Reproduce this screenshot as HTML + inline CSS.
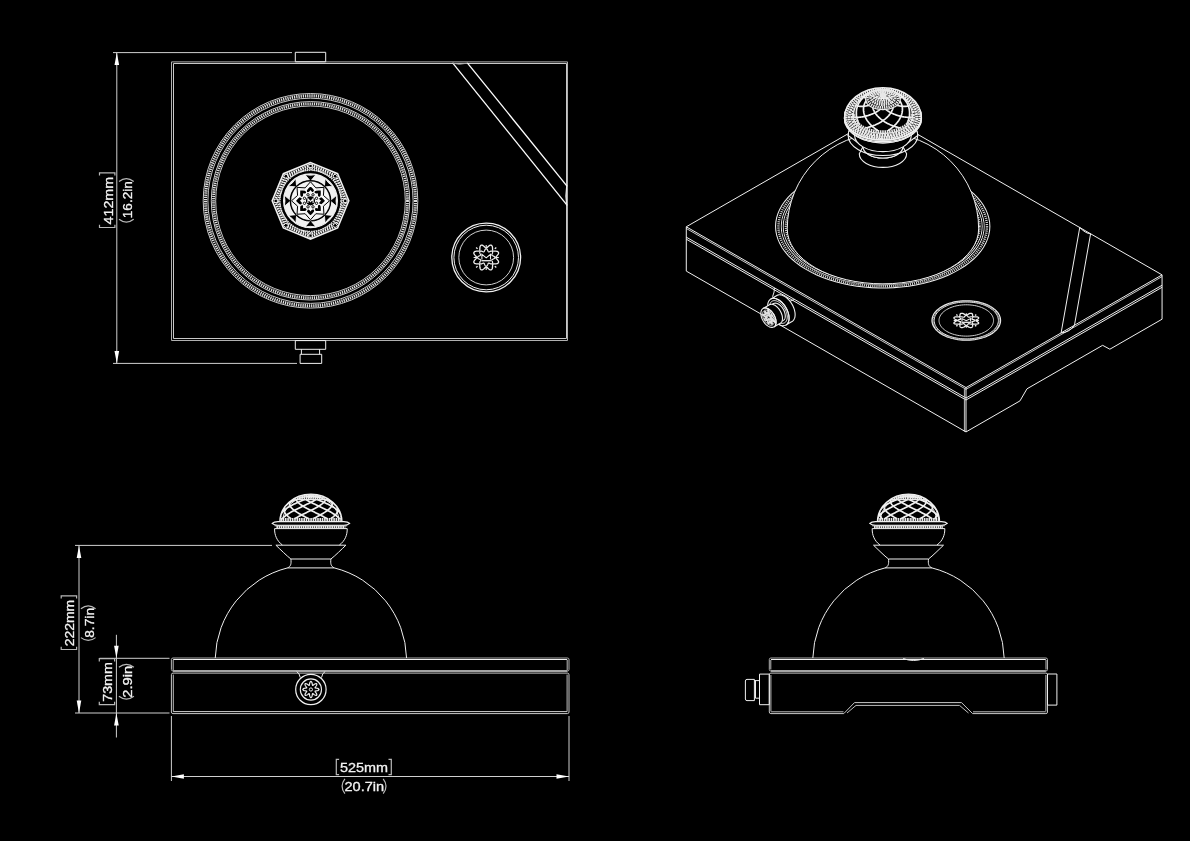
<!DOCTYPE html>
<html><head><meta charset="utf-8"><style>
html,body{margin:0;padding:0;background:#000;width:1190px;height:841px;overflow:hidden}
svg{display:block;will-change:transform}
text{font-family:"Liberation Sans",sans-serif}
</style></head><body>
<svg width="1190" height="841" viewBox="0 0 1190 841">
<rect width="1190" height="841" fill="#000"/>
<g fill="none" stroke="#f0f0f0" stroke-width="1">
<g id="top">
<path d="M171.5,61.9 L567.5,61.9 L567.5,340.5 L171.5,340.5Z" stroke="#b0b0b0"/>
<path d="M173.5,63.5 L566.5,63.5 L566.5,338.5 L173.5,338.5Z" stroke="#c8c8c8"/>
<path d="M295.3,52.3 L325.7,52.3 L325.7,61.8 L295.3,61.8Z"/>
<path d="M295.3,340.6 L325.7,340.6 L325.7,349.3 L295.3,349.3Z"/>
<path d="M301.4,349.3 L301.4,354.3"/>
<path d="M319.6,349.3 L319.6,354.3"/>
<path d="M300.1,354.3 L321.7,354.3 L321.7,363.4 L300.1,363.4Z"/>
<path d="M452.6,62.8 L567.2,205.3" stroke="#fff" stroke-width="1.3"/>
<path d="M467.3,62.8 L567.2,186.3" stroke="#fff" stroke-width="1.3"/>
<path d="M452.6,63.2 L459.5,64.2 L467.3,63.2" stroke="#aaa"/>
<path d="M566.6,186.3 L565.8,196 L566.6,205.3"/>
<path d="M113,52.6 L292,52.6" stroke="#cfcfcf"/>
<path d="M113,363.4 L297,363.4" stroke="#cfcfcf"/>
<path d="M116.8,52.6 L116.8,363.4" stroke="#cfcfcf"/>
<path d="M116.8,52.6 L119.1,65.1 L114.5,65.1Z" fill="#fff" stroke="none"/>
<path d="M116.8,363.4 L114.5,350.9 L119.1,350.9Z" fill="#fff" stroke="none"/>
<circle cx="310.5" cy="200.8" r="107.3" stroke="#c8c8c8"/>
<circle cx="310.5" cy="200.8" r="102.6" stroke="#c8c8c8"/>
<circle cx="310.5" cy="200.8" r="104.95" stroke="#dedede" stroke-width="3.1" stroke-dasharray="1.3 0.9"/>
<circle cx="310.5" cy="200.8" r="99.2" stroke="#c8c8c8"/>
<circle cx="310.5" cy="200.8" r="94.8" stroke="#c8c8c8"/>
<circle cx="310.5" cy="200.8" r="97" stroke="#dedede" stroke-width="2.8" stroke-dasharray="1.3 0.9"/>
<circle cx="486.2" cy="257.5" r="34.4" stroke-width="1.3"/>
<circle cx="486.2" cy="257.5" r="32.3"/>
<circle cx="486.2" cy="257.5" r="27.4" stroke="#cfcfcf"/>
<path d="M495.7,257.5 L495.75,257.8 L495.92,258.11 L496.17,258.44 L496.5,258.8 L496.88,259.19 L497.28,259.61 L497.67,260.06 L498.03,260.54 L498.31,261.02 L498.5,261.5 L498.59,261.96 L498.55,262.39 L498.39,262.78 L498.11,263.11 L497.73,263.37 L497.25,263.58 L496.71,263.71 L496.13,263.8 L495.53,263.84 L494.95,263.86 L494.4,263.86 L493.92,263.88 L493.5,263.94 L493.17,264.04 L492.92,264.22 L492.74,264.47 L492.64,264.8 L492.58,265.22 L492.56,265.7 L492.56,266.25 L492.54,266.83 L492.5,267.43 L492.41,268.01 L492.28,268.55 L492.07,269.03 L491.81,269.41 L491.48,269.69 L491.09,269.85 L490.66,269.89 L490.2,269.8 L489.72,269.61 L489.24,269.33 L488.76,268.97 L488.31,268.58 L487.89,268.18 L487.5,267.8 L487.14,267.47 L486.81,267.22 L486.5,267.05 L486.2,267 L485.9,267.05 L485.59,267.22 L485.26,267.47 L484.9,267.8 L484.51,268.18 L484.09,268.58 L483.64,268.97 L483.16,269.33 L482.68,269.61 L482.2,269.8 L481.74,269.89 L481.31,269.85 L480.92,269.69 L480.59,269.41 L480.33,269.03 L480.12,268.55 L479.99,268.01 L479.9,267.43 L479.86,266.83 L479.84,266.25 L479.84,265.7 L479.82,265.22 L479.76,264.8 L479.66,264.47 L479.48,264.22 L479.23,264.04 L478.9,263.94 L478.48,263.88 L478,263.86 L477.45,263.86 L476.87,263.84 L476.27,263.8 L475.69,263.71 L475.15,263.58 L474.67,263.37 L474.29,263.11 L474.01,262.78 L473.85,262.39 L473.81,261.96 L473.9,261.5 L474.09,261.02 L474.37,260.54 L474.73,260.06 L475.12,259.61 L475.52,259.19 L475.9,258.8 L476.23,258.44 L476.48,258.11 L476.65,257.8 L476.7,257.5 L476.65,257.2 L476.48,256.89 L476.23,256.56 L475.9,256.2 L475.52,255.81 L475.12,255.39 L474.73,254.94 L474.37,254.46 L474.09,253.98 L473.9,253.5 L473.81,253.04 L473.85,252.61 L474.01,252.22 L474.29,251.89 L474.67,251.63 L475.15,251.42 L475.69,251.29 L476.27,251.2 L476.87,251.16 L477.45,251.14 L478,251.14 L478.48,251.12 L478.9,251.06 L479.23,250.96 L479.48,250.78 L479.66,250.53 L479.76,250.2 L479.82,249.78 L479.84,249.3 L479.84,248.75 L479.86,248.17 L479.9,247.57 L479.99,246.99 L480.12,246.45 L480.33,245.97 L480.59,245.59 L480.92,245.31 L481.31,245.15 L481.74,245.11 L482.2,245.2 L482.68,245.39 L483.16,245.67 L483.64,246.03 L484.09,246.42 L484.51,246.82 L484.9,247.2 L485.26,247.53 L485.59,247.78 L485.9,247.95 L486.2,248 L486.5,247.95 L486.81,247.78 L487.14,247.53 L487.5,247.2 L487.89,246.82 L488.31,246.42 L488.76,246.03 L489.24,245.67 L489.72,245.39 L490.2,245.2 L490.66,245.11 L491.09,245.15 L491.48,245.31 L491.81,245.59 L492.07,245.97 L492.28,246.45 L492.41,246.99 L492.5,247.57 L492.54,248.17 L492.56,248.75 L492.56,249.3 L492.58,249.78 L492.64,250.2 L492.74,250.53 L492.92,250.78 L493.17,250.96 L493.5,251.06 L493.92,251.12 L494.4,251.14 L494.95,251.14 L495.53,251.16 L496.13,251.2 L496.71,251.29 L497.25,251.42 L497.73,251.63 L498.11,251.89 L498.39,252.22 L498.55,252.61 L498.59,253.04 L498.5,253.5 L498.31,253.98 L498.03,254.46 L497.67,254.94 L497.28,255.39 L496.88,255.81 L496.5,256.2 L496.17,256.56 L495.92,256.89 L495.75,257.2 L495.7,257.5" stroke-width="1.3"/>
<path d="M494.9,257.5 L494.85,257.77 L494.72,258.04 L494.51,258.29 L494.23,258.51 L493.91,258.72 L493.55,258.9 L493.18,259.06 L492.83,259.2 L492.51,259.33 L492.24,259.46 L492.03,259.6 L491.88,259.75 L491.81,259.93 L491.8,260.14 L491.86,260.38 L491.96,260.67 L492.09,260.99 L492.24,261.33 L492.39,261.71 L492.51,262.09 L492.6,262.46 L492.63,262.82 L492.61,263.15 L492.51,263.43 L492.35,263.65 L492.13,263.81 L491.85,263.91 L491.52,263.93 L491.16,263.9 L490.79,263.81 L490.41,263.69 L490.03,263.54 L489.69,263.39 L489.37,263.26 L489.08,263.16 L488.84,263.1 L488.63,263.11 L488.45,263.18 L488.3,263.33 L488.16,263.54 L488.03,263.81 L487.9,264.13 L487.76,264.48 L487.6,264.85 L487.42,265.21 L487.21,265.53 L486.99,265.81 L486.74,266.02 L486.47,266.15 L486.2,266.2 L485.93,266.15 L485.66,266.02 L485.41,265.81 L485.19,265.53 L484.98,265.21 L484.8,264.85 L484.64,264.48 L484.5,264.13 L484.37,263.81 L484.24,263.54 L484.1,263.33 L483.95,263.18 L483.77,263.11 L483.56,263.1 L483.32,263.16 L483.03,263.26 L482.71,263.39 L482.37,263.54 L481.99,263.69 L481.61,263.81 L481.24,263.9 L480.88,263.93 L480.55,263.91 L480.27,263.81 L480.05,263.65 L479.89,263.43 L479.79,263.15 L479.77,262.82 L479.8,262.46 L479.89,262.09 L480.01,261.71 L480.16,261.33 L480.31,260.99 L480.44,260.67 L480.54,260.38 L480.6,260.14 L480.59,259.93 L480.52,259.75 L480.37,259.6 L480.16,259.46 L479.89,259.33 L479.57,259.2 L479.22,259.06 L478.85,258.9 L478.49,258.72 L478.17,258.51 L477.89,258.29 L477.68,258.04 L477.55,257.77 L477.5,257.5 L477.55,257.23 L477.68,256.96 L477.89,256.71 L478.17,256.49 L478.49,256.28 L478.85,256.1 L479.22,255.94 L479.57,255.8 L479.89,255.67 L480.16,255.54 L480.37,255.4 L480.52,255.25 L480.59,255.07 L480.6,254.86 L480.54,254.62 L480.44,254.33 L480.31,254.01 L480.16,253.67 L480.01,253.29 L479.89,252.91 L479.8,252.54 L479.77,252.18 L479.79,251.85 L479.89,251.57 L480.05,251.35 L480.27,251.19 L480.55,251.09 L480.88,251.07 L481.24,251.1 L481.61,251.19 L481.99,251.31 L482.37,251.46 L482.71,251.61 L483.03,251.74 L483.32,251.84 L483.56,251.9 L483.77,251.89 L483.95,251.82 L484.1,251.67 L484.24,251.46 L484.37,251.19 L484.5,250.87 L484.64,250.52 L484.8,250.15 L484.98,249.79 L485.19,249.47 L485.41,249.19 L485.66,248.98 L485.93,248.85 L486.2,248.8 L486.47,248.85 L486.74,248.98 L486.99,249.19 L487.21,249.47 L487.42,249.79 L487.6,250.15 L487.76,250.52 L487.9,250.87 L488.03,251.19 L488.16,251.46 L488.3,251.67 L488.45,251.82 L488.63,251.89 L488.84,251.9 L489.08,251.84 L489.37,251.74 L489.69,251.61 L490.03,251.46 L490.41,251.31 L490.79,251.19 L491.16,251.1 L491.52,251.07 L491.85,251.09 L492.13,251.19 L492.35,251.35 L492.51,251.57 L492.61,251.85 L492.63,252.18 L492.6,252.54 L492.51,252.91 L492.39,253.29 L492.24,253.67 L492.09,254.01 L491.96,254.33 L491.86,254.62 L491.8,254.86 L491.81,255.07 L491.88,255.25 L492.03,255.4 L492.24,255.54 L492.51,255.67 L492.83,255.8 L493.18,255.94 L493.55,256.1 L493.91,256.28 L494.23,256.49 L494.51,256.71 L494.72,256.96 L494.85,257.23 L494.9,257.5" stroke-width="1.2"/>
<path d="M494.83,266.13 L496.24,267.54" stroke-width="1.4"/>
<path d="M477.57,266.13 L476.16,267.54" stroke-width="1.4"/>
<path d="M477.57,248.87 L476.16,247.46" stroke-width="1.4"/>
<path d="M494.83,248.87 L496.24,247.46" stroke-width="1.4"/>
<path d="M495.8,257.5 L498.8,257.5" stroke-width="1.1"/>
<path d="M486.2,267.1 L486.2,270.1" stroke-width="1.1"/>
<path d="M476.6,257.5 L473.6,257.5" stroke-width="1.1"/>
<path d="M486.2,247.9 L486.2,244.9" stroke-width="1.1"/>
<path d="M481.9,259.42 L481.9,254.3 L486.2,257.82 L490.5,254.3 L490.5,259.42" stroke-width="1.1"/>
<path d="M481.4,260.7 L491,260.7" stroke-width="1.3"/>
<path d="M310.5,162.5 L283.42,173.72 L272.2,200.8 L283.42,227.88 L310.5,239.1 L337.58,227.88 L348.8,200.8 L337.58,173.72Z" fill="#000" stroke-width="1.6"/>
<path d="M310.5,165.1 L285.26,175.56 L274.8,200.8 L285.26,226.04 L310.5,236.5 L335.74,226.04 L346.2,200.8 L335.74,175.56Z" stroke="#f0f0f0" stroke-width="2.8" stroke-dasharray="1.6 0.8"/>
<path d="M310.5,168.1 L287.38,177.68 L277.8,200.8 L287.38,223.92 L310.5,233.5 L333.62,223.92 L343.2,200.8 L333.62,177.68Z" stroke="#f0f0f0" stroke-width="2.8" stroke-dasharray="1.4 0.9"/>
<rect x="308.9" y="164.4" width="3.2" height="3.2" fill="#000" stroke="#fff" stroke-width="0.8" transform="rotate(0 310.5 166)"/>
<rect x="284.29" y="174.59" width="3.2" height="3.2" fill="#000" stroke="#fff" stroke-width="0.8" transform="rotate(-45 285.89 176.19)"/>
<rect x="274.1" y="199.2" width="3.2" height="3.2" fill="#000" stroke="#fff" stroke-width="0.8" transform="rotate(-90 275.7 200.8)"/>
<rect x="284.29" y="223.81" width="3.2" height="3.2" fill="#000" stroke="#fff" stroke-width="0.8" transform="rotate(-135 285.89 225.41)"/>
<rect x="308.9" y="234" width="3.2" height="3.2" fill="#000" stroke="#fff" stroke-width="0.8" transform="rotate(-180 310.5 235.6)"/>
<rect x="333.51" y="223.81" width="3.2" height="3.2" fill="#000" stroke="#fff" stroke-width="0.8" transform="rotate(-225 335.11 225.41)"/>
<rect x="343.7" y="199.2" width="3.2" height="3.2" fill="#000" stroke="#fff" stroke-width="0.8" transform="rotate(-270 345.3 200.8)"/>
<rect x="333.51" y="174.59" width="3.2" height="3.2" fill="#000" stroke="#fff" stroke-width="0.8" transform="rotate(-315 335.11 176.19)"/>
<circle cx="310.5" cy="200.8" r="30.4" stroke="#e6e6e6" stroke-width="1.8" stroke-dasharray="1.4 1.0"/>
<circle cx="310.5" cy="200.8" r="28.6" stroke="#000" stroke-width="2.6"/>
<circle cx="310.5" cy="200.8" r="23.6" stroke="#f0f0f0" stroke-width="6.6"/>
<path d="M-3.2,-5.5 L3.4,0 L-3.2,5.5 Q-1.8,0 -3.2,-5.5Z" fill="#000" stroke="#fff" stroke-width="0.8" transform="translate(333.5,200.8) rotate(180)"/>
<path d="M-3.2,-5.5 L3.4,0 L-3.2,5.5 Q-1.8,0 -3.2,-5.5Z" fill="#000" stroke="#fff" stroke-width="0.8" transform="translate(326.76,217.06) rotate(225)"/>
<path d="M-3.2,-5.5 L3.4,0 L-3.2,5.5 Q-1.8,0 -3.2,-5.5Z" fill="#000" stroke="#fff" stroke-width="0.8" transform="translate(310.5,223.8) rotate(270)"/>
<path d="M-3.2,-5.5 L3.4,0 L-3.2,5.5 Q-1.8,0 -3.2,-5.5Z" fill="#000" stroke="#fff" stroke-width="0.8" transform="translate(294.24,217.06) rotate(315)"/>
<path d="M-3.2,-5.5 L3.4,0 L-3.2,5.5 Q-1.8,0 -3.2,-5.5Z" fill="#000" stroke="#fff" stroke-width="0.8" transform="translate(287.5,200.8) rotate(360)"/>
<path d="M-3.2,-5.5 L3.4,0 L-3.2,5.5 Q-1.8,0 -3.2,-5.5Z" fill="#000" stroke="#fff" stroke-width="0.8" transform="translate(294.24,184.54) rotate(405)"/>
<path d="M-3.2,-5.5 L3.4,0 L-3.2,5.5 Q-1.8,0 -3.2,-5.5Z" fill="#000" stroke="#fff" stroke-width="0.8" transform="translate(310.5,177.8) rotate(450)"/>
<path d="M-3.2,-5.5 L3.4,0 L-3.2,5.5 Q-1.8,0 -3.2,-5.5Z" fill="#000" stroke="#fff" stroke-width="0.8" transform="translate(326.76,184.54) rotate(495)"/>
<circle cx="310.5" cy="200.8" r="26.9" stroke-width="1.2"/>
<circle cx="310.5" cy="200.8" r="20.2" stroke="#000" stroke-width="1.2"/>
<circle cx="310.5" cy="200.8" r="19.4" fill="#f4f4f4" stroke="none"/>
<path d="M329.5,200.8 L323.43,206.16 L323.94,214.24 L315.86,213.73 L310.5,219.8 L305.14,213.73 L297.06,214.24 L297.57,206.16 L291.5,200.8 L297.57,195.44 L297.06,187.36 L305.14,187.87 L310.5,181.8 L315.86,187.87 L323.94,187.36 L323.43,195.44Z" stroke="#000"/>
<path d="M0,2.6 C-1,1.6 -3.2,0 -3.2,-1.4 C-3.2,-3 -1.2,-3.4 0,-1.6 C1.2,-3.4 3.2,-3 3.2,-1.4 C3.2,0 1,1.6 0,2.6Z" fill="#000" stroke="#fff" stroke-width="0.9" transform="translate(322.3,200.8) rotate(-90) scale(1.35)"/>
<path d="M0,2.6 C-1,1.6 -3.2,0 -3.2,-1.4 C-3.2,-3 -1.2,-3.4 0,-1.6 C1.2,-3.4 3.2,-3 3.2,-1.4 C3.2,0 1,1.6 0,2.6Z" fill="#000" stroke="#fff" stroke-width="0.9" transform="translate(318.84,209.14) rotate(-45) scale(1.35)"/>
<path d="M0,2.6 C-1,1.6 -3.2,0 -3.2,-1.4 C-3.2,-3 -1.2,-3.4 0,-1.6 C1.2,-3.4 3.2,-3 3.2,-1.4 C3.2,0 1,1.6 0,2.6Z" fill="#000" stroke="#fff" stroke-width="0.9" transform="translate(310.5,212.6) rotate(0) scale(1.35)"/>
<path d="M0,2.6 C-1,1.6 -3.2,0 -3.2,-1.4 C-3.2,-3 -1.2,-3.4 0,-1.6 C1.2,-3.4 3.2,-3 3.2,-1.4 C3.2,0 1,1.6 0,2.6Z" fill="#000" stroke="#fff" stroke-width="0.9" transform="translate(302.16,209.14) rotate(45) scale(1.35)"/>
<path d="M0,2.6 C-1,1.6 -3.2,0 -3.2,-1.4 C-3.2,-3 -1.2,-3.4 0,-1.6 C1.2,-3.4 3.2,-3 3.2,-1.4 C3.2,0 1,1.6 0,2.6Z" fill="#000" stroke="#fff" stroke-width="0.9" transform="translate(298.7,200.8) rotate(90) scale(1.35)"/>
<path d="M0,2.6 C-1,1.6 -3.2,0 -3.2,-1.4 C-3.2,-3 -1.2,-3.4 0,-1.6 C1.2,-3.4 3.2,-3 3.2,-1.4 C3.2,0 1,1.6 0,2.6Z" fill="#000" stroke="#fff" stroke-width="0.9" transform="translate(302.16,192.46) rotate(135) scale(1.35)"/>
<path d="M0,2.6 C-1,1.6 -3.2,0 -3.2,-1.4 C-3.2,-3 -1.2,-3.4 0,-1.6 C1.2,-3.4 3.2,-3 3.2,-1.4 C3.2,0 1,1.6 0,2.6Z" fill="#000" stroke="#fff" stroke-width="0.9" transform="translate(310.5,189) rotate(180) scale(1.35)"/>
<path d="M0,2.6 C-1,1.6 -3.2,0 -3.2,-1.4 C-3.2,-3 -1.2,-3.4 0,-1.6 C1.2,-3.4 3.2,-3 3.2,-1.4 C3.2,0 1,1.6 0,2.6Z" fill="#000" stroke="#fff" stroke-width="0.9" transform="translate(318.84,192.46) rotate(225) scale(1.35)"/>
<circle cx="310.5" cy="200.8" r="5.2" fill="#000" stroke="#fff" stroke-width="1.2"/>
<circle cx="316.51" cy="203.29" r="1.2" stroke="#000" stroke-width="0.9"/>
<circle cx="312.99" cy="206.81" r="1.2" stroke="#000" stroke-width="0.9"/>
<circle cx="308.01" cy="206.81" r="1.2" stroke="#000" stroke-width="0.9"/>
<circle cx="304.49" cy="203.29" r="1.2" stroke="#000" stroke-width="0.9"/>
<circle cx="304.49" cy="198.31" r="1.2" stroke="#000" stroke-width="0.9"/>
<circle cx="308.01" cy="194.79" r="1.2" stroke="#000" stroke-width="0.9"/>
<circle cx="312.99" cy="194.79" r="1.2" stroke="#000" stroke-width="0.9"/>
<circle cx="316.51" cy="198.31" r="1.2" stroke="#000" stroke-width="0.9"/>
<path d="M307.9,203 L307.9,198.6 L310.5,201.6 L313.1,198.6 L313.1,203" stroke-width="1.1"/>
</g>
<g id="front">
<path d="M171.4,659.5 Q171.4,658.0 173,658.0 H567.4 Q569,658.0 569,659.5 V669.5 Q569,671.0 567.4,671.0 H173 Q171.4,671.0 171.4,669.5Z" stroke="#b0b0b0"/>
<path d="M173.2,659.5 L567.2,659.5"/>
<path d="M173.2,660 L173.2,670" stroke="#bdbdbd"/>
<path d="M567.2,660 L567.2,670" stroke="#bdbdbd"/>
<path d="M173,671 L567.4,671"/>
<path d="M171.4,674.7 Q171.4,673.1 173,673.1 H567.4 Q569,673.1 569,674.7 V712 Q569,713.6 567.4,713.6 H173 Q171.4,713.6 171.4,712Z" stroke="#c8c8c8"/>
<path d="M173.3,674.6 L173.3,711.5" stroke="#bdbdbd"/>
<path d="M567.1,674.6 L567.1,711.5" stroke="#bdbdbd"/>
<path d="M173.2,711.6 L567.2,711.6" stroke="#d0d0d0"/>
<circle cx="310.9" cy="689.5" r="15.2" stroke-width="1.2"/>
<circle cx="310.9" cy="689.5" r="10.6" stroke-width="1.1"/>
<path d="M319,689.5 L318.91,689.81 L318.63,690.11 L318.21,690.36 L317.67,690.57 L317.08,690.73 L316.49,690.84 L315.95,690.92 L315.51,691 L315.2,691.09 L315.06,691.22 L315.07,691.42 L315.22,691.7 L315.47,692.06 L315.8,692.5 L316.14,693 L316.45,693.53 L316.68,694.06 L316.8,694.54 L316.78,694.94 L316.63,695.23 L316.34,695.38 L315.94,695.4 L315.46,695.28 L314.93,695.05 L314.4,694.74 L313.9,694.4 L313.46,694.07 L313.1,693.82 L312.82,693.67 L312.62,693.66 L312.49,693.8 L312.4,694.11 L312.32,694.55 L312.24,695.09 L312.13,695.68 L311.97,696.27 L311.76,696.81 L311.51,697.23 L311.21,697.51 L310.9,697.6 L310.59,697.51 L310.29,697.23 L310.04,696.81 L309.83,696.27 L309.67,695.68 L309.56,695.09 L309.48,694.55 L309.4,694.11 L309.31,693.8 L309.18,693.66 L308.98,693.67 L308.7,693.82 L308.34,694.07 L307.9,694.4 L307.4,694.74 L306.87,695.05 L306.34,695.28 L305.86,695.4 L305.46,695.38 L305.17,695.23 L305.02,694.94 L305,694.54 L305.12,694.06 L305.35,693.53 L305.66,693 L306,692.5 L306.33,692.06 L306.58,691.7 L306.73,691.42 L306.74,691.22 L306.6,691.09 L306.29,691 L305.85,690.92 L305.31,690.84 L304.72,690.73 L304.13,690.57 L303.59,690.36 L303.17,690.11 L302.89,689.81 L302.8,689.5 L302.89,689.19 L303.17,688.89 L303.59,688.64 L304.13,688.43 L304.72,688.27 L305.31,688.16 L305.85,688.08 L306.29,688 L306.6,687.91 L306.74,687.78 L306.73,687.58 L306.58,687.3 L306.33,686.94 L306,686.5 L305.66,686 L305.35,685.47 L305.12,684.94 L305,684.46 L305.02,684.06 L305.17,683.77 L305.46,683.62 L305.86,683.6 L306.34,683.72 L306.87,683.95 L307.4,684.26 L307.9,684.6 L308.34,684.93 L308.7,685.18 L308.98,685.33 L309.18,685.34 L309.31,685.2 L309.4,684.89 L309.48,684.45 L309.56,683.91 L309.67,683.32 L309.83,682.73 L310.04,682.19 L310.29,681.77 L310.59,681.49 L310.9,681.4 L311.21,681.49 L311.51,681.77 L311.76,682.19 L311.97,682.73 L312.13,683.32 L312.24,683.91 L312.32,684.45 L312.4,684.89 L312.49,685.2 L312.62,685.34 L312.82,685.33 L313.1,685.18 L313.46,684.93 L313.9,684.6 L314.4,684.26 L314.93,683.95 L315.46,683.72 L315.94,683.6 L316.34,683.62 L316.63,683.77 L316.78,684.06 L316.8,684.46 L316.68,684.94 L316.45,685.47 L316.14,686 L315.8,686.5 L315.47,686.94 L315.22,687.3 L315.07,687.58 L315.06,687.78 L315.2,687.91 L315.51,688 L315.95,688.08 L316.49,688.16 L317.08,688.27 L317.67,688.43 L318.21,688.64 L318.63,688.89 L318.91,689.19 L319,689.5Z" stroke-width="1.2"/>
<circle cx="310.9" cy="689.5" r="1.6"/>
<path d="M296.6,671.5 Q299.5,673 300.3,677.6"/>
<path d="M325.2,671.5 Q322.3,673 321.5,677.6"/>
<path d="M215.24,658 A95.7,95.7 0 0 1 287.52,567.9"/>
<path d="M334.28,567.9 A95.7,95.7 0 0 1 406.56,658"/>
<path d="M287.52,567.9 C290.9,566.4 291.4,563.9 290.9,559"/>
<path d="M334.28,567.9 C330.9,566.4 330.4,563.9 330.9,559"/>
<path d="M287.52,567.9 L334.28,567.9"/>
<path d="M290.9,559 L330.9,559"/>
<path d="M290.9,559 C286.9,556 279.9,549 275.9,545.2"/>
<path d="M330.9,559 C334.9,556 341.9,549 345.9,545.2"/>
<path d="M275.9,545.2 L345.9,545.2"/>
<path d="M282.4,545 C276.9,541 274.4,535 274.6,528.6"/>
<path d="M339.4,545 C344.9,541 347.4,535 347.2,528.6"/>
<path d="M274.6,528.6 L347.2,528.6"/>
<path d="M274.6,525.8 L347.2,525.8" stroke-width="0.9"/>
<path d="M272.1,523.4 Q273.9,521.7 277.9,521.6 H343.9 Q347.9,521.7 349.7,523.4 Q347.9,525.1 343.9,525.3 H277.9 Q273.9,525.1 272.1,523.4Z" stroke-width="1.1"/>
<path d="M276.4,527.3 L345.4,527.3" stroke="#e8e8e8" stroke-width="2.6" stroke-dasharray="1.6 0.6"/>
<clipPath id="cl310"><path d="M279.9,521.6 A31,27.3 0 0 1 341.9,521.6Z"/></clipPath>
<path d="M279.9,521.6 A31,27.3 0 0 1 341.9,521.6" stroke-width="1.4"/>
<g clip-path="url(#cl310)">
<path d="M316.11,499.38 L315.6,499.72 L315.04,500.08 L314.44,500.44 L313.79,500.81 L313.11,501.19 L312.38,501.58 L311.61,501.98 L310.81,502.39 L309.97,502.8 L309.1,503.23 L308.2,503.66 L307.27,504.1 L306.32,504.55 L305.35,505.01 L304.36,505.47 L303.35,505.94 L302.33,506.42 L301.3,506.91 L300.27,507.4 L299.23,507.9 L298.19,508.4 L297.15,508.91 L296.11,509.43 L295.09,509.95 L294.07,510.48 L293.08,511.01 L292.1,511.55 L291.14,512.09 L290.2,512.64 L289.29,513.19 L288.41,513.74 L287.56,514.3 L286.75,514.86 L285.97,515.42 L285.24,515.99 L284.54,516.56 L283.89,517.13 L283.29,517.7 L282.73,518.28 L282.22,518.85" stroke-width="1.7"/>
<path d="M304.98,499.38 L304.16,499.72 L303.31,500.08 L302.44,500.44 L301.56,500.81 L300.65,501.19 L299.74,501.58 L298.81,501.98 L297.88,502.39 L296.95,502.8 L296.01,503.23 L295.07,503.66 L294.14,504.1 L293.22,504.55 L292.31,505.01 L291.42,505.47 L290.54,505.94 L289.69,506.42 L288.85,506.91 L288.05,507.4 L287.27,507.9 L286.52,508.4 L285.81,508.91 L285.13,509.43 L284.5,509.95 L283.9,510.48 L283.35,511.01 L282.85,511.55 L282.39,512.09 L281.98,512.64 L281.62,513.19 L281.31,513.74 L281.06,514.3 L280.86,514.86" stroke-width="1.7"/>
<path d="M296.11,499.38 L295.29,499.72 L294.48,500.08 L293.68,500.44 L292.89,500.81 L292.12,501.19 L291.36,501.58 L290.63,501.98 L289.93,502.39 L289.25,502.8 L288.61,503.23 L287.99,503.66 L287.41,504.1 L286.88,504.55 L286.38,505.01 L285.92,505.47 L285.51,505.94" stroke-width="1.7"/>
<path d="M341.08,515.42 L341.17,515.99 L341.21,516.56 L341.18,517.13 L341.1,517.7 L340.96,518.28 L340.77,518.85" stroke-width="1.7"/>
<path d="M336.66,506.42 L336.98,506.91 L337.25,507.4 L337.46,507.9 L337.63,508.4 L337.74,508.91 L337.8,509.43 L337.81,509.95 L337.75,510.48 L337.65,511.01 L337.49,511.55 L337.27,512.09 L336.99,512.64 L336.66,513.19 L336.28,513.74 L335.84,514.3 L335.35,514.86 L334.81,515.42 L334.22,515.99 L333.58,516.56 L332.89,517.13 L332.15,517.7 L331.37,518.28 L330.55,518.85" stroke-width="1.7"/>
<path d="M328.91,499.38 L329.41,499.72 L329.88,500.08 L330.31,500.44 L330.7,500.81 L331.05,501.19 L331.35,501.58 L331.61,501.98 L331.81,502.39 L331.97,502.8 L332.08,503.23 L332.14,503.66 L332.14,504.1 L332.1,504.55 L332,505.01 L331.84,505.47 L331.63,505.94 L331.37,506.42 L331.05,506.91 L330.67,507.4 L330.25,507.9 L329.77,508.4 L329.24,508.91 L328.66,509.43 L328.03,509.95 L327.36,510.48 L326.63,511.01 L325.86,511.55 L325.05,512.09 L324.2,512.64 L323.31,513.19 L322.38,513.74 L321.42,514.3 L320.43,514.86 L319.41,515.42 L318.36,515.99 L317.29,516.56 L316.19,517.13 L315.08,517.7 L313.96,518.28 L312.82,518.85" stroke-width="1.7"/>
<path d="M325.25,499.38 L325.24,499.72 L325.19,500.08 L325.08,500.44 L324.93,500.81 L324.72,501.19 L324.45,501.58 L324.14,501.98 L323.77,502.39 L323.35,502.8 L322.88,503.23 L322.36,503.66 L321.79,504.1 L321.17,504.55 L320.51,505.01 L319.8,505.47 L319.05,505.94 L318.25,506.42 L317.42,506.91 L316.55,507.4 L315.64,507.9 L314.71,508.4 L313.74,508.91 L312.74,509.43 L311.72,509.95 L310.67,510.48 L309.61,511.01 L308.53,511.55 L307.43,512.09 L306.33,512.64 L305.21,513.19 L304.1,513.74 L302.98,514.3 L301.86,514.86 L300.75,515.42 L299.65,515.99 L298.56,516.56 L297.48,517.13 L296.42,517.7 L295.38,518.28 L294.36,518.85" stroke-width="1.7"/>
<path d="M325.69,499.38 L326.51,499.72 L327.32,500.08 L328.12,500.44 L328.91,500.81 L329.68,501.19 L330.44,501.58 L331.17,501.98 L331.87,502.39 L332.55,502.8 L333.19,503.23 L333.81,503.66 L334.39,504.1 L334.92,504.55 L335.42,505.01 L335.88,505.47 L336.29,505.94" stroke-width="1.7"/>
<path d="M316.82,499.38 L317.64,499.72 L318.49,500.08 L319.36,500.44 L320.24,500.81 L321.15,501.19 L322.06,501.58 L322.99,501.98 L323.92,502.39 L324.85,502.8 L325.79,503.23 L326.73,503.66 L327.66,504.1 L328.58,504.55 L329.49,505.01 L330.38,505.47 L331.26,505.94 L332.11,506.42 L332.95,506.91 L333.75,507.4 L334.53,507.9 L335.28,508.4 L335.99,508.91 L336.67,509.43 L337.3,509.95 L337.9,510.48 L338.45,511.01 L338.95,511.55 L339.41,512.09 L339.82,512.64 L340.18,513.19 L340.49,513.74 L340.74,514.3 L340.94,514.86" stroke-width="1.7"/>
<path d="M305.69,499.38 L306.2,499.72 L306.76,500.08 L307.36,500.44 L308.01,500.81 L308.69,501.19 L309.42,501.58 L310.19,501.98 L310.99,502.39 L311.83,502.8 L312.7,503.23 L313.6,503.66 L314.53,504.1 L315.48,504.55 L316.45,505.01 L317.44,505.47 L318.45,505.94 L319.47,506.42 L320.5,506.91 L321.53,507.4 L322.57,507.9 L323.61,508.4 L324.65,508.91 L325.69,509.43 L326.71,509.95 L327.73,510.48 L328.72,511.01 L329.7,511.55 L330.66,512.09 L331.6,512.64 L332.51,513.19 L333.39,513.74 L334.24,514.3 L335.05,514.86 L335.83,515.42 L336.56,515.99 L337.26,516.56 L337.91,517.13 L338.51,517.7 L339.07,518.28 L339.58,518.85" stroke-width="1.7"/>
<path d="M296.55,499.38 L296.56,499.72 L296.61,500.08 L296.72,500.44 L296.87,500.81 L297.08,501.19 L297.35,501.58 L297.66,501.98 L298.03,502.39 L298.45,502.8 L298.92,503.23 L299.44,503.66 L300.01,504.1 L300.63,504.55 L301.29,505.01 L302,505.47 L302.75,505.94 L303.55,506.42 L304.38,506.91 L305.25,507.4 L306.16,507.9 L307.09,508.4 L308.06,508.91 L309.06,509.43 L310.08,509.95 L311.13,510.48 L312.19,511.01 L313.27,511.55 L314.37,512.09 L315.47,512.64 L316.59,513.19 L317.7,513.74 L318.82,514.3 L319.94,514.86 L321.05,515.42 L322.15,515.99 L323.24,516.56 L324.32,517.13 L325.38,517.7 L326.42,518.28 L327.44,518.85" stroke-width="1.7"/>
<path d="M292.89,499.38 L292.39,499.72 L291.92,500.08 L291.49,500.44 L291.1,500.81 L290.75,501.19 L290.45,501.58 L290.19,501.98 L289.99,502.39 L289.83,502.8 L289.72,503.23 L289.66,503.66 L289.66,504.1 L289.7,504.55 L289.8,505.01 L289.96,505.47 L290.17,505.94 L290.43,506.42 L290.75,506.91 L291.13,507.4 L291.55,507.9 L292.03,508.4 L292.56,508.91 L293.14,509.43 L293.77,509.95 L294.44,510.48 L295.17,511.01 L295.94,511.55 L296.75,512.09 L297.6,512.64 L298.49,513.19 L299.42,513.74 L300.38,514.3 L301.37,514.86 L302.39,515.42 L303.44,515.99 L304.51,516.56 L305.61,517.13 L306.72,517.7 L307.84,518.28 L308.98,518.85" stroke-width="1.7"/>
<path d="M285.14,506.42 L284.82,506.91 L284.55,507.4 L284.34,507.9 L284.17,508.4 L284.06,508.91 L284,509.43 L283.99,509.95 L284.05,510.48 L284.15,511.01 L284.31,511.55 L284.53,512.09 L284.81,512.64 L285.14,513.19 L285.52,513.74 L285.96,514.3 L286.45,514.86 L286.99,515.42 L287.58,515.99 L288.22,516.56 L288.91,517.13 L289.65,517.7 L290.43,518.28 L291.25,518.85" stroke-width="1.7"/>
<path d="M280.72,515.42 L280.63,515.99 L280.59,516.56 L280.62,517.13 L280.7,517.7 L280.84,518.28 L281.03,518.85" stroke-width="1.7"/>
<path d="M313.07,494.37 L313.06,494.37 L313.04,494.37 L313.02,494.37 L312.99,494.37 L312.96,494.37 L312.92,494.37 L312.88,494.37 L312.83,494.37 L312.78,494.37 L312.72,494.37 L312.65,494.37 L312.59,494.37 L312.51,494.37 L312.43,494.37 L312.35,494.37 L312.26,494.37 L312.17,494.37 L312.08,494.37 L311.98,494.37 L311.88,494.37 L311.78,494.37 L311.68,494.37 L311.57,494.37 L311.46,494.37 L311.35,494.37 L311.24,494.37 L311.13,494.37 L311.01,494.37 L310.9,494.37 L310.79,494.37 L310.67,494.37 L310.56,494.37 L310.45,494.37 L310.34,494.37 L310.23,494.37 L310.12,494.37 L310.02,494.37 L309.92,494.37 L309.82,494.37 L309.72,494.37 L309.63,494.37 L309.54,494.37 L309.45,494.37 L309.37,494.37 L309.29,494.37 L309.21,494.37 L309.15,494.37 L309.08,494.37 L309.02,494.37 L308.97,494.37 L308.92,494.37 L308.88,494.37 L308.84,494.37 L308.81,494.37 L308.78,494.37 L308.76,494.37 L308.74,494.37 L308.73,494.37 L308.73,494.37" stroke="#e8e8e8" stroke-width="3.2"/>
<path d="M316.75,494.79 L316.72,494.79 L316.68,494.79 L316.63,494.79 L316.56,494.79 L316.47,494.79 L316.37,494.79 L316.25,494.79 L316.12,494.79 L315.97,494.79 L315.81,494.79 L315.64,494.79 L315.45,494.79 L315.25,494.79 L315.04,494.79 L314.82,494.79 L314.58,494.79 L314.34,494.79 L314.09,494.79 L313.83,494.79 L313.56,494.79 L313.28,494.79 L313,494.79 L312.71,494.79 L312.42,494.79 L312.12,494.79 L311.82,494.79 L311.51,494.79 L311.21,494.79 L310.9,494.79 L310.59,494.79 L310.29,494.79 L309.98,494.79 L309.68,494.79 L309.38,494.79 L309.09,494.79 L308.8,494.79 L308.52,494.79 L308.24,494.79 L307.97,494.79 L307.71,494.79 L307.46,494.79 L307.22,494.79 L306.98,494.79 L306.76,494.79 L306.55,494.79 L306.35,494.79 L306.16,494.79 L305.99,494.79 L305.83,494.79 L305.68,494.79 L305.55,494.79 L305.43,494.79 L305.33,494.79 L305.24,494.79 L305.17,494.79 L305.12,494.79 L305.08,494.79 L305.05,494.79 L305.05,494.79" stroke="#e8e8e8" stroke-width="3.2" stroke-dasharray="1.8 0.6"/>
<path d="M320.34,495.6 L320.31,495.6 L320.24,495.6 L320.15,495.6 L320.03,495.6 L319.89,495.6 L319.73,495.6 L319.54,495.6 L319.33,495.6 L319.09,495.6 L318.83,495.6 L318.55,495.6 L318.25,495.6 L317.93,495.6 L317.59,495.6 L317.23,495.6 L316.85,495.6 L316.46,495.6 L316.05,495.6 L315.63,495.6 L315.19,495.6 L314.75,495.6 L314.29,495.6 L313.82,495.6 L313.35,495.6 L312.87,495.6 L312.38,495.6 L311.89,495.6 L311.39,495.6 L310.9,495.6 L310.41,495.6 L309.91,495.6 L309.42,495.6 L308.93,495.6 L308.45,495.6 L307.98,495.6 L307.51,495.6 L307.05,495.6 L306.61,495.6 L306.17,495.6 L305.75,495.6 L305.34,495.6 L304.95,495.6 L304.57,495.6 L304.21,495.6 L303.87,495.6 L303.55,495.6 L303.25,495.6 L302.97,495.6 L302.71,495.6 L302.47,495.6 L302.26,495.6 L302.07,495.6 L301.91,495.6 L301.77,495.6 L301.65,495.6 L301.56,495.6 L301.49,495.6 L301.46,495.6 L301.44,495.6" stroke="#e8e8e8" stroke-width="3.2" stroke-dasharray="1.6 0.6"/>
<path d="M323.81,496.79 L323.75,496.79 L323.66,496.79 L323.54,496.79 L323.38,496.79 L323.19,496.79 L322.96,496.79 L322.71,496.79 L322.41,496.79 L322.09,496.79 L321.74,496.79 L321.35,496.79 L320.94,496.79 L320.5,496.79 L320.04,496.79 L319.55,496.79 L319.03,496.79 L318.5,496.79 L317.94,496.79 L317.36,496.79 L316.77,496.79 L316.16,496.79 L315.53,496.79 L314.89,496.79 L314.24,496.79 L313.59,496.79 L312.92,496.79 L312.25,496.79 L311.58,496.79 L310.9,496.79 L310.22,496.79 L309.55,496.79 L308.88,496.79 L308.21,496.79 L307.56,496.79 L306.91,496.79 L306.27,496.79 L305.64,496.79 L305.03,496.79 L304.44,496.79 L303.86,496.79 L303.3,496.79 L302.77,496.79 L302.25,496.79 L301.76,496.79 L301.3,496.79 L300.86,496.79 L300.45,496.79 L300.06,496.79 L299.71,496.79 L299.39,496.79 L299.09,496.79 L298.84,496.79 L298.61,496.79 L298.42,496.79 L298.26,496.79 L298.14,496.79 L298.05,496.79 L297.99,496.79 L297.98,496.79" stroke="#e8e8e8" stroke-width="3" stroke-dasharray="1.7 0.6"/>
<path d="M327.08,498.33 L327.01,498.33 L326.9,498.33 L326.75,498.33 L326.55,498.33 L326.31,498.33 L326.03,498.33 L325.7,498.33 L325.34,498.33 L324.93,498.33 L324.49,498.33 L324.01,498.33 L323.49,498.33 L322.94,498.33 L322.36,498.33 L321.74,498.33 L321.1,498.33 L320.42,498.33 L319.72,498.33 L319,498.33 L318.26,498.33 L317.49,498.33 L316.71,498.33 L315.91,498.33 L315.09,498.33 L314.27,498.33 L313.43,498.33 L312.59,498.33 L311.75,498.33 L310.9,498.33 L310.05,498.33 L309.21,498.33 L308.37,498.33 L307.53,498.33 L306.71,498.33 L305.89,498.33 L305.09,498.33 L304.31,498.33 L303.54,498.33 L302.8,498.33 L302.08,498.33 L301.38,498.33 L300.7,498.33 L300.06,498.33 L299.44,498.33 L298.86,498.33 L298.31,498.33 L297.79,498.33 L297.31,498.33 L296.87,498.33 L296.46,498.33 L296.1,498.33 L295.77,498.33 L295.49,498.33 L295.25,498.33 L295.05,498.33 L294.9,498.33 L294.79,498.33 L294.72,498.33 L294.7,498.33" stroke="#e8e8e8" stroke-width="2.8" stroke-dasharray="1.5 0.7"/>
<path d="M329.14,499.54 L329.06,499.54 L328.94,499.54 L328.76,499.54 L328.54,499.54 L328.27,499.54 L327.95,499.54 L327.58,499.54 L327.17,499.54 L326.72,499.54 L326.22,499.54 L325.68,499.54 L325.09,499.54 L324.47,499.54 L323.81,499.54 L323.12,499.54 L322.39,499.54 L321.64,499.54 L320.85,499.54 L320.03,499.54 L319.19,499.54 L318.33,499.54 L317.45,499.54 L316.54,499.54 L315.63,499.54 L314.7,499.54 L313.76,499.54 L312.81,499.54 L311.86,499.54 L310.9,499.54 L309.94,499.54 L308.99,499.54 L308.04,499.54 L307.1,499.54 L306.17,499.54 L305.26,499.54 L304.35,499.54 L303.47,499.54 L302.61,499.54 L301.77,499.54 L300.95,499.54 L300.16,499.54 L299.41,499.54 L298.68,499.54 L297.99,499.54 L297.33,499.54 L296.71,499.54 L296.12,499.54 L295.58,499.54 L295.08,499.54 L294.63,499.54 L294.22,499.54 L293.85,499.54 L293.53,499.54 L293.26,499.54 L293.04,499.54 L292.86,499.54 L292.74,499.54 L292.66,499.54 L292.64,499.54" stroke="#e8e8e8" stroke-width="1.3"/>
<path d="M341.78,519.67 L341.65,519.67 L341.44,519.67 L341.15,519.67 L340.77,519.67 L340.31,519.67 L339.77,519.67 L339.15,519.67 L338.45,519.67 L337.68,519.67 L336.83,519.67 L335.92,519.67 L334.93,519.67 L333.88,519.67 L332.77,519.67 L331.59,519.67 L330.36,519.67 L329.08,519.67 L327.74,519.67 L326.36,519.67 L324.94,519.67 L323.48,519.67 L321.98,519.67 L320.46,519.67 L318.9,519.67 L317.33,519.67 L315.74,519.67 L314.13,519.67 L312.52,519.67 L310.9,519.67 L309.28,519.67 L307.67,519.67 L306.06,519.67 L304.47,519.67 L302.9,519.67 L301.34,519.67 L299.82,519.67 L298.32,519.67 L296.86,519.67 L295.44,519.67 L294.06,519.67 L292.72,519.67 L291.44,519.67 L290.21,519.67 L289.03,519.67 L287.92,519.67 L286.87,519.67 L285.88,519.67 L284.97,519.67 L284.12,519.67 L283.35,519.67 L282.65,519.67 L282.03,519.67 L281.49,519.67 L281.03,519.67 L280.65,519.67 L280.36,519.67 L280.15,519.67 L280.02,519.67 L279.98,519.67" stroke="#e8e8e8" stroke-width="3.2" stroke-dasharray="1.6 0.7"/>
</g>
<path d="M282.9,520.6 A28,24.3 0 0 1 338.9,520.6" stroke-width="1"/>
<path d="M75,545.4 L272,545.4" stroke="#cfcfcf"/>
<path d="M75,713 L169.5,713" stroke="#cfcfcf"/>
<path d="M99.5,658.3 L169.5,658.3" stroke="#cfcfcf"/>
<path d="M79,545.4 L79,713" stroke="#cfcfcf"/>
<path d="M79,545.4 L81.3,557.9 L76.7,557.9Z" fill="#fff" stroke="none"/>
<path d="M79,713 L76.7,700.5 L81.3,700.5Z" fill="#fff" stroke="none"/>
<path d="M116.4,634.8 L116.4,737.5" stroke="#cfcfcf"/>
<path d="M116.4,658.3 L114.1,645.8 L118.7,645.8Z" fill="#fff" stroke="none"/>
<path d="M116.4,713 L118.7,725.5 L114.1,725.5Z" fill="#fff" stroke="none"/>
<path d="M171.4,716 L171.4,781" stroke="#cfcfcf"/>
<path d="M569,716 L569,781" stroke="#cfcfcf"/>
<path d="M171.4,776.5 L569,776.5" stroke="#cfcfcf"/>
<path d="M171.4,776.5 L183.9,774.2 L183.9,778.8Z" fill="#fff" stroke="none"/>
<path d="M569,776.5 L556.5,778.8 L556.5,774.2Z" fill="#fff" stroke="none"/>
</g>
<g id="side">
<path d="M769.3,659.5 Q769.3,658.0 770.9,658.0 H1045.9 Q1047.5,658.0 1047.5,659.5 V669.5 Q1047.5,671.0 1045.9,671.0 H770.9 Q769.3,671.0 769.3,669.5Z" stroke="#b0b0b0"/>
<path d="M771,659.5 L1045.8,659.5"/>
<path d="M770.9,671 L1045.9,671"/>
<path d="M770.8,660 L770.8,669.5" stroke="#bdbdbd"/>
<path d="M1046,660 L1046,669.5" stroke="#bdbdbd"/>
<path d="M769.3,674.7 Q769.3,673.1 770.9,673.1 H1045.9 Q1047.5,673.1 1047.5,674.7 V712 Q1047.5,713.6 1045.9,713.6 H972.6 L961.5,702.6 H854.5 L843.8,713.6 H770.9 Q769.3,713.6 769.3,712Z" stroke="#c8c8c8"/>
<path d="M770.9,675 L770.9,711.5" stroke="#bdbdbd"/>
<path d="M1045.9,675 L1045.9,711.5" stroke="#bdbdbd"/>
<path d="M847,713 L856,705.4 L959.5,705.4 L968.5,713" stroke="#bdbdbd"/>
<path d="M771.1,711.8 L843.5,711.8" stroke="#bdbdbd"/>
<path d="M973,711.8 L1045.7,711.8" stroke="#bdbdbd"/>
<path d="M759.5,674.1 L769.3,674.1 L769.3,704.7 L759.5,704.7Z"/>
<path d="M759.5,680.6 L755.5,680.6"/>
<path d="M759.5,698.2 L755.5,698.2"/>
<path d="M754.4,679.4 H747 Q745.4,679.4 745.4,681 V699 Q745.4,700.6 747,700.6 H754.4 Z"/>
<path d="M754.4,680.6 L756,680.6"/>
<path d="M755.5,680.6 L755.5,698.2"/>
<path d="M1047.5,674 L1056.9,674 L1056.9,705.1 L1047.5,705.1Z"/>
<path d="M903.2,658.5 Q913.5,662.5 923.9,658.5"/>
<path d="M812.84,658 A95.7,95.7 0 0 1 885.12,567.9"/>
<path d="M931.88,567.9 A95.7,95.7 0 0 1 1004.16,658"/>
<path d="M885.12,567.9 C888.5,566.4 889,563.9 888.5,559"/>
<path d="M931.88,567.9 C928.5,566.4 928,563.9 928.5,559"/>
<path d="M885.12,567.9 L931.88,567.9"/>
<path d="M888.5,559 L928.5,559"/>
<path d="M888.5,559 C884.5,556 877.5,549 873.5,545.2"/>
<path d="M928.5,559 C932.5,556 939.5,549 943.5,545.2"/>
<path d="M873.5,545.2 L943.5,545.2"/>
<path d="M880,545 C874.5,541 872,535 872.2,528.6"/>
<path d="M937,545 C942.5,541 945,535 944.8,528.6"/>
<path d="M872.2,528.6 L944.8,528.6"/>
<path d="M872.2,525.8 L944.8,525.8" stroke-width="0.9"/>
<path d="M869.7,523.4 Q871.5,521.7 875.5,521.6 H941.5 Q945.5,521.7 947.3,523.4 Q945.5,525.1 941.5,525.3 H875.5 Q871.5,525.1 869.7,523.4Z" stroke-width="1.1"/>
<path d="M874,527.3 L943,527.3" stroke="#e8e8e8" stroke-width="2.6" stroke-dasharray="1.6 0.6"/>
<clipPath id="cl908"><path d="M877.5,521.6 A31,27.3 0 0 1 939.5,521.6Z"/></clipPath>
<path d="M877.5,521.6 A31,27.3 0 0 1 939.5,521.6" stroke-width="1.4"/>
<g clip-path="url(#cl908)">
<path d="M891.16,499.38 L890.46,499.72 L889.79,500.08 L889.14,500.44 L888.52,500.81 L887.93,501.19 L887.38,501.58 L886.86,501.98" stroke-width="1.7"/>
<path d="M936.71,510.48 L936.94,511.01 L937.12,511.55 L937.25,512.09 L937.32,512.64 L937.34,513.19 L937.3,513.74 L937.2,514.3 L937.05,514.86 L936.84,515.42 L936.57,515.99 L936.25,516.56 L935.88,517.13 L935.45,517.7 L934.97,518.28 L934.43,518.85" stroke-width="1.7"/>
<path d="M930.42,502.39 L930.86,502.8 L931.26,503.23 L931.61,503.66 L931.92,504.1 L932.17,504.55 L932.38,505.01 L932.54,505.47 L932.65,505.94 L932.7,506.42 L932.7,506.91 L932.65,507.4 L932.54,507.9 L932.37,508.4 L932.16,508.91 L931.88,509.43 L931.55,509.95 L931.17,510.48 L930.73,511.01 L930.24,511.55 L929.7,512.09 L929.11,512.64 L928.47,513.19 L927.78,513.74 L927.04,514.3 L926.26,514.86 L925.44,515.42 L924.58,515.99 L923.68,516.56 L922.74,517.13 L921.77,517.7 L920.77,518.28 L919.74,518.85" stroke-width="1.7"/>
<path d="M925.41,499.38 L925.67,499.72 L925.89,500.08 L926.06,500.44 L926.18,500.81 L926.26,501.19 L926.28,501.58 L926.24,501.98 L926.16,502.39 L926.02,502.8 L925.83,503.23 L925.59,503.66 L925.29,504.1 L924.94,504.55 L924.54,505.01 L924.09,505.47 L923.58,505.94 L923.03,506.42 L922.42,506.91 L921.77,507.4 L921.07,507.9 L920.32,508.4 L919.53,508.91 L918.7,509.43 L917.84,509.95 L916.93,510.48 L915.99,511.01 L915.02,511.55 L914.02,512.09 L912.99,512.64 L911.93,513.19 L910.86,513.74 L909.77,514.3 L908.66,514.86 L907.54,515.42 L906.41,515.99 L905.27,516.56 L904.13,517.13 L902.99,517.7 L901.85,518.28 L900.72,518.85" stroke-width="1.7"/>
<path d="M918.68,499.38 L918.41,499.72 L918.09,500.08 L917.72,500.44 L917.3,500.81 L916.82,501.19 L916.3,501.58 L915.73,501.98 L915.12,502.39 L914.46,502.8 L913.75,503.23 L913.01,503.66 L912.22,504.1 L911.39,504.55 L910.53,505.01 L909.64,505.47 L908.72,505.94 L907.76,506.42 L906.78,506.91 L905.78,507.4 L904.76,507.9 L903.72,508.4 L902.66,508.91 L901.59,509.43 L900.52,509.95 L899.43,510.48 L898.35,511.01 L897.27,511.55 L896.19,512.09 L895.11,512.64 L894.05,513.19 L893,513.74 L891.97,514.3 L890.95,514.86 L889.96,515.42 L888.99,515.99 L888.05,516.56 L887.14,517.13 L886.27,517.7 L885.43,518.28 L884.63,518.85" stroke-width="1.7"/>
<path d="M908.02,499.38 L907.32,499.72 L906.59,500.08 L905.81,500.44 L905.01,500.81 L904.17,501.19 L903.31,501.58 L902.42,501.98 L901.51,502.39 L900.57,502.8 L899.62,503.23 L898.66,503.66 L897.69,504.1 L896.7,504.55 L895.71,505.01 L894.72,505.47 L893.73,505.94 L892.74,506.42 L891.76,506.91 L890.79,507.4 L889.84,507.9 L888.9,508.4 L887.98,508.91 L887.08,509.43 L886.21,509.95 L885.36,510.48 L884.55,511.01 L883.77,511.55 L883.02,512.09 L882.31,512.64 L881.65,513.19 L881.02,513.74 L880.44,514.3 L879.91,514.86 L879.43,515.42 L878.99,515.99 L878.61,516.56 L878.28,517.13 L878,517.7 L877.78,518.28 L877.62,518.85" stroke-width="1.7"/>
<path d="M897.51,499.38 L896.65,499.72 L895.78,500.08 L894.9,500.44 L894.02,500.81 L893.14,501.19 L892.26,501.58 L891.39,501.98 L890.53,502.39 L889.68,502.8 L888.85,503.23 L888.04,503.66 L887.24,504.1 L886.48,504.55 L885.74,505.01 L885.03,505.47 L884.35,505.94 L883.7,506.42 L883.1,506.91 L882.53,507.4 L882.01,507.9 L881.53,508.4 L881.1,508.91 L880.71,509.43 L880.38,509.95" stroke-width="1.7"/>
<path d="M925.64,499.38 L926.34,499.72 L927.01,500.08 L927.66,500.44 L928.28,500.81 L928.87,501.19 L929.42,501.58 L929.94,501.98" stroke-width="1.7"/>
<path d="M919.29,499.38 L920.15,499.72 L921.02,500.08 L921.9,500.44 L922.78,500.81 L923.66,501.19 L924.54,501.58 L925.41,501.98 L926.27,502.39 L927.12,502.8 L927.95,503.23 L928.76,503.66 L929.56,504.1 L930.32,504.55 L931.06,505.01 L931.77,505.47 L932.45,505.94 L933.1,506.42 L933.7,506.91 L934.27,507.4 L934.79,507.9 L935.27,508.4 L935.7,508.91 L936.09,509.43 L936.42,509.95" stroke-width="1.7"/>
<path d="M908.78,499.38 L909.48,499.72 L910.21,500.08 L910.99,500.44 L911.79,500.81 L912.63,501.19 L913.49,501.58 L914.38,501.98 L915.29,502.39 L916.23,502.8 L917.18,503.23 L918.14,503.66 L919.11,504.1 L920.1,504.55 L921.09,505.01 L922.08,505.47 L923.07,505.94 L924.06,506.42 L925.04,506.91 L926.01,507.4 L926.96,507.9 L927.9,508.4 L928.82,508.91 L929.72,509.43 L930.59,509.95 L931.44,510.48 L932.25,511.01 L933.03,511.55 L933.78,512.09 L934.49,512.64 L935.15,513.19 L935.78,513.74 L936.36,514.3 L936.89,514.86 L937.37,515.42 L937.81,515.99 L938.19,516.56 L938.52,517.13 L938.8,517.7 L939.02,518.28 L939.18,518.85" stroke-width="1.7"/>
<path d="M898.12,499.38 L898.39,499.72 L898.71,500.08 L899.08,500.44 L899.5,500.81 L899.98,501.19 L900.5,501.58 L901.07,501.98 L901.68,502.39 L902.34,502.8 L903.05,503.23 L903.79,503.66 L904.58,504.1 L905.41,504.55 L906.27,505.01 L907.16,505.47 L908.08,505.94 L909.04,506.42 L910.02,506.91 L911.02,507.4 L912.04,507.9 L913.08,508.4 L914.14,508.91 L915.21,509.43 L916.28,509.95 L917.37,510.48 L918.45,511.01 L919.53,511.55 L920.61,512.09 L921.69,512.64 L922.75,513.19 L923.8,513.74 L924.83,514.3 L925.85,514.86 L926.84,515.42 L927.81,515.99 L928.75,516.56 L929.66,517.13 L930.53,517.7 L931.37,518.28 L932.17,518.85" stroke-width="1.7"/>
<path d="M891.39,499.38 L891.13,499.72 L890.91,500.08 L890.74,500.44 L890.62,500.81 L890.54,501.19 L890.52,501.58 L890.56,501.98 L890.64,502.39 L890.78,502.8 L890.97,503.23 L891.21,503.66 L891.51,504.1 L891.86,504.55 L892.26,505.01 L892.71,505.47 L893.22,505.94 L893.77,506.42 L894.38,506.91 L895.03,507.4 L895.73,507.9 L896.48,508.4 L897.27,508.91 L898.1,509.43 L898.96,509.95 L899.87,510.48 L900.81,511.01 L901.78,511.55 L902.78,512.09 L903.81,512.64 L904.87,513.19 L905.94,513.74 L907.03,514.3 L908.14,514.86 L909.26,515.42 L910.39,515.99 L911.53,516.56 L912.67,517.13 L913.81,517.7 L914.95,518.28 L916.08,518.85" stroke-width="1.7"/>
<path d="M886.38,502.39 L885.94,502.8 L885.54,503.23 L885.19,503.66 L884.88,504.1 L884.63,504.55 L884.42,505.01 L884.26,505.47 L884.15,505.94 L884.1,506.42 L884.1,506.91 L884.15,507.4 L884.26,507.9 L884.43,508.4 L884.64,508.91 L884.92,509.43 L885.25,509.95 L885.63,510.48 L886.07,511.01 L886.56,511.55 L887.1,512.09 L887.69,512.64 L888.33,513.19 L889.02,513.74 L889.76,514.3 L890.54,514.86 L891.36,515.42 L892.22,515.99 L893.12,516.56 L894.06,517.13 L895.03,517.7 L896.03,518.28 L897.06,518.85" stroke-width="1.7"/>
<path d="M880.09,510.48 L879.86,511.01 L879.68,511.55 L879.55,512.09 L879.48,512.64 L879.46,513.19 L879.5,513.74 L879.6,514.3 L879.75,514.86 L879.96,515.42 L880.23,515.99 L880.55,516.56 L880.92,517.13 L881.35,517.7 L881.83,518.28 L882.37,518.85" stroke-width="1.7"/>
<path d="M908.4,494.37 L908.29,494.37 L908.17,494.37 L908.06,494.37 L907.95,494.37 L907.84,494.37 L907.73,494.37 L907.62,494.37 L907.52,494.37 L907.42,494.37 L907.32,494.37 L907.22,494.37 L907.13,494.37 L907.04,494.37 L906.95,494.37 L906.87,494.37 L906.79,494.37 L906.71,494.37 L906.65,494.37 L906.58,494.37 L906.52,494.37 L906.47,494.37 L906.42,494.37 L906.38,494.37 L906.34,494.37 L906.31,494.37 L906.28,494.37 L906.26,494.37 L906.24,494.37 L906.23,494.37 L906.23,494.37" stroke="#e8e8e8" stroke-width="3.2"/>
<path d="M910.57,494.37 L910.56,494.37 L910.54,494.37 L910.52,494.37 L910.49,494.37 L910.46,494.37 L910.42,494.37 L910.38,494.37 L910.33,494.37 L910.28,494.37 L910.22,494.37 L910.15,494.37 L910.09,494.37 L910.01,494.37 L909.93,494.37 L909.85,494.37 L909.76,494.37 L909.67,494.37 L909.58,494.37 L909.48,494.37 L909.38,494.37 L909.28,494.37 L909.18,494.37 L909.07,494.37 L908.96,494.37 L908.85,494.37 L908.74,494.37 L908.63,494.37 L908.51,494.37 L908.4,494.37" stroke="#e8e8e8" stroke-width="3.2"/>
<path d="M908.4,494.79 L908.09,494.79 L907.79,494.79 L907.48,494.79 L907.18,494.79 L906.88,494.79 L906.59,494.79 L906.3,494.79 L906.02,494.79 L905.74,494.79 L905.47,494.79 L905.21,494.79 L904.96,494.79 L904.72,494.79 L904.48,494.79 L904.26,494.79 L904.05,494.79 L903.85,494.79 L903.66,494.79 L903.49,494.79 L903.33,494.79 L903.18,494.79 L903.05,494.79 L902.93,494.79 L902.83,494.79 L902.74,494.79 L902.67,494.79 L902.62,494.79 L902.58,494.79 L902.55,494.79 L902.55,494.79" stroke="#e8e8e8" stroke-width="3.2" stroke-dasharray="1.8 0.6"/>
<path d="M914.25,494.79 L914.22,494.79 L914.18,494.79 L914.13,494.79 L914.06,494.79 L913.97,494.79 L913.87,494.79 L913.75,494.79 L913.62,494.79 L913.47,494.79 L913.31,494.79 L913.14,494.79 L912.95,494.79 L912.75,494.79 L912.54,494.79 L912.32,494.79 L912.08,494.79 L911.84,494.79 L911.59,494.79 L911.33,494.79 L911.06,494.79 L910.78,494.79 L910.5,494.79 L910.21,494.79 L909.92,494.79 L909.62,494.79 L909.32,494.79 L909.01,494.79 L908.71,494.79 L908.4,494.79" stroke="#e8e8e8" stroke-width="3.2" stroke-dasharray="1.8 0.6"/>
<path d="M908.4,495.6 L907.91,495.6 L907.41,495.6 L906.92,495.6 L906.43,495.6 L905.95,495.6 L905.48,495.6 L905.01,495.6 L904.55,495.6 L904.11,495.6 L903.67,495.6 L903.25,495.6 L902.84,495.6 L902.45,495.6 L902.07,495.6 L901.71,495.6 L901.37,495.6 L901.05,495.6 L900.75,495.6 L900.47,495.6 L900.21,495.6 L899.97,495.6 L899.76,495.6 L899.57,495.6 L899.41,495.6 L899.27,495.6 L899.15,495.6 L899.06,495.6 L898.99,495.6 L898.96,495.6 L898.94,495.6" stroke="#e8e8e8" stroke-width="3.2" stroke-dasharray="1.6 0.6"/>
<path d="M917.84,495.6 L917.81,495.6 L917.74,495.6 L917.65,495.6 L917.53,495.6 L917.39,495.6 L917.23,495.6 L917.04,495.6 L916.83,495.6 L916.59,495.6 L916.33,495.6 L916.05,495.6 L915.75,495.6 L915.43,495.6 L915.09,495.6 L914.73,495.6 L914.35,495.6 L913.96,495.6 L913.55,495.6 L913.13,495.6 L912.69,495.6 L912.25,495.6 L911.79,495.6 L911.32,495.6 L910.85,495.6 L910.37,495.6 L909.88,495.6 L909.39,495.6 L908.89,495.6 L908.4,495.6" stroke="#e8e8e8" stroke-width="3.2" stroke-dasharray="1.6 0.6"/>
<path d="M908.4,496.79 L907.72,496.79 L907.05,496.79 L906.38,496.79 L905.71,496.79 L905.06,496.79 L904.41,496.79 L903.77,496.79 L903.14,496.79 L902.53,496.79 L901.94,496.79 L901.36,496.79 L900.8,496.79 L900.27,496.79 L899.75,496.79 L899.26,496.79 L898.8,496.79 L898.36,496.79 L897.95,496.79 L897.56,496.79 L897.21,496.79 L896.89,496.79 L896.59,496.79 L896.34,496.79 L896.11,496.79 L895.92,496.79 L895.76,496.79 L895.64,496.79 L895.55,496.79 L895.49,496.79 L895.48,496.79" stroke="#e8e8e8" stroke-width="3" stroke-dasharray="1.7 0.6"/>
<path d="M921.31,496.79 L921.25,496.79 L921.16,496.79 L921.04,496.79 L920.88,496.79 L920.69,496.79 L920.46,496.79 L920.21,496.79 L919.91,496.79 L919.59,496.79 L919.24,496.79 L918.85,496.79 L918.44,496.79 L918,496.79 L917.54,496.79 L917.05,496.79 L916.53,496.79 L916,496.79 L915.44,496.79 L914.86,496.79 L914.27,496.79 L913.66,496.79 L913.03,496.79 L912.39,496.79 L911.74,496.79 L911.09,496.79 L910.42,496.79 L909.75,496.79 L909.08,496.79 L908.4,496.79" stroke="#e8e8e8" stroke-width="3" stroke-dasharray="1.7 0.6"/>
<path d="M908.4,498.33 L907.55,498.33 L906.71,498.33 L905.87,498.33 L905.03,498.33 L904.21,498.33 L903.39,498.33 L902.59,498.33 L901.81,498.33 L901.04,498.33 L900.3,498.33 L899.58,498.33 L898.88,498.33 L898.2,498.33 L897.56,498.33 L896.94,498.33 L896.36,498.33 L895.81,498.33 L895.29,498.33 L894.81,498.33 L894.37,498.33 L893.96,498.33 L893.6,498.33 L893.27,498.33 L892.99,498.33 L892.75,498.33 L892.55,498.33 L892.4,498.33 L892.29,498.33 L892.22,498.33 L892.2,498.33" stroke="#e8e8e8" stroke-width="2.8" stroke-dasharray="1.5 0.7"/>
<path d="M924.58,498.33 L924.51,498.33 L924.4,498.33 L924.25,498.33 L924.05,498.33 L923.81,498.33 L923.53,498.33 L923.2,498.33 L922.84,498.33 L922.43,498.33 L921.99,498.33 L921.51,498.33 L920.99,498.33 L920.44,498.33 L919.86,498.33 L919.24,498.33 L918.6,498.33 L917.92,498.33 L917.22,498.33 L916.5,498.33 L915.76,498.33 L914.99,498.33 L914.21,498.33 L913.41,498.33 L912.59,498.33 L911.77,498.33 L910.93,498.33 L910.09,498.33 L909.25,498.33 L908.4,498.33" stroke="#e8e8e8" stroke-width="2.8" stroke-dasharray="1.5 0.7"/>
<path d="M908.4,499.54 L907.44,499.54 L906.49,499.54 L905.54,499.54 L904.6,499.54 L903.67,499.54 L902.76,499.54 L901.85,499.54 L900.97,499.54 L900.11,499.54 L899.27,499.54 L898.45,499.54 L897.66,499.54 L896.91,499.54 L896.18,499.54 L895.49,499.54 L894.83,499.54 L894.21,499.54 L893.62,499.54 L893.08,499.54 L892.58,499.54 L892.13,499.54 L891.72,499.54 L891.35,499.54 L891.03,499.54 L890.76,499.54 L890.54,499.54 L890.36,499.54 L890.24,499.54 L890.16,499.54 L890.14,499.54" stroke="#e8e8e8" stroke-width="1.3"/>
<path d="M926.64,499.54 L926.56,499.54 L926.44,499.54 L926.26,499.54 L926.04,499.54 L925.77,499.54 L925.45,499.54 L925.08,499.54 L924.67,499.54 L924.22,499.54 L923.72,499.54 L923.18,499.54 L922.59,499.54 L921.97,499.54 L921.31,499.54 L920.62,499.54 L919.89,499.54 L919.14,499.54 L918.35,499.54 L917.53,499.54 L916.69,499.54 L915.83,499.54 L914.95,499.54 L914.04,499.54 L913.13,499.54 L912.2,499.54 L911.26,499.54 L910.31,499.54 L909.36,499.54 L908.4,499.54" stroke="#e8e8e8" stroke-width="1.3"/>
<path d="M908.4,519.67 L906.78,519.67 L905.17,519.67 L903.56,519.67 L901.97,519.67 L900.4,519.67 L898.84,519.67 L897.32,519.67 L895.82,519.67 L894.36,519.67 L892.94,519.67 L891.56,519.67 L890.22,519.67 L888.94,519.67 L887.71,519.67 L886.53,519.67 L885.42,519.67 L884.37,519.67 L883.38,519.67 L882.47,519.67 L881.62,519.67 L880.85,519.67 L880.15,519.67 L879.53,519.67 L878.99,519.67 L878.53,519.67 L878.15,519.67 L877.86,519.67 L877.65,519.67 L877.52,519.67 L877.48,519.67" stroke="#e8e8e8" stroke-width="3.2" stroke-dasharray="1.6 0.7"/>
<path d="M939.28,519.67 L939.15,519.67 L938.94,519.67 L938.65,519.67 L938.27,519.67 L937.81,519.67 L937.27,519.67 L936.65,519.67 L935.95,519.67 L935.18,519.67 L934.33,519.67 L933.42,519.67 L932.43,519.67 L931.38,519.67 L930.27,519.67 L929.09,519.67 L927.86,519.67 L926.58,519.67 L925.24,519.67 L923.86,519.67 L922.44,519.67 L920.98,519.67 L919.48,519.67 L917.96,519.67 L916.4,519.67 L914.83,519.67 L913.24,519.67 L911.63,519.67 L910.02,519.67 L908.4,519.67" stroke="#e8e8e8" stroke-width="3.2" stroke-dasharray="1.6 0.7"/>
</g>
<path d="M880.5,520.6 A28,24.3 0 0 1 936.5,520.6" stroke-width="1"/>
</g>
<g id="iso">
<path d="M686.29,226.77 L966,387.6 L1162.07,274.87 L882.35,114.04Z"/>
<path d="M686.29,228.46 L966,389.29 L1162.07,276.56" stroke="#c8c8c8"/>
<path d="M686.29,237.17 L966,398 L1162.07,285.26"/>
<path d="M686.29,239.18 L966,400.01 L1162.07,287.28"/>
<path d="M686.29,226.77 L686.29,271.1"/>
<path d="M1162.07,274.87 L1162.07,319.2"/>
<path d="M966,387.6 L966,431.93"/>
<path d="M964.4,389.1 L964.4,431.6" stroke="#bdbdbd"/>
<path d="M686.29,271.1 L966,431.93"/>
<path d="M966,431.93 L1019.96,400.9 L1026.99,388.8 L1102.62,345.32 L1109.87,349.21 L1162.07,319.2"/>
<path d="M1079.76,227.54 L1061.11,332.91"/>
<path d="M1090.59,233.77 L1074.48,325.23"/>
<path d="M1079.76,227.54 Q1086.17,233.85 1090.59,233.77"/>
<path d="M1061.11,332.91 Q1069.3,332.57 1074.48,325.23"/>
<path d="M989.86,226.37 L989.6,230.66 L988.81,234.94 L987.51,239.18 L985.71,243.35 L983.39,247.44 L980.59,251.43 L977.31,255.29 L973.57,259.01 L969.39,262.58 L964.79,265.97 L959.78,269.16 L954.4,272.15 L948.67,274.92 L942.62,277.44 L936.28,279.72 L929.68,281.74 L922.84,283.49 L915.82,284.96 L908.63,286.15 L901.31,287.04 L893.91,287.64 L886.45,287.94 L878.97,287.94 L871.51,287.64 L864.1,287.04 L856.78,286.15 L849.59,284.96 L842.57,283.49 L835.73,281.74 L829.13,279.72 L822.79,277.44 L816.74,274.92 L811.01,272.15 L805.63,269.16 L800.62,265.97 L796.02,262.58 L791.84,259.01 L788.1,255.29 L784.82,251.43 L782.02,247.44 L779.71,243.35 L777.9,239.18 L776.6,234.94 L775.82,230.66 L775.55,226.37 L775.82,222.07 L776.6,217.79 L777.9,213.56 L779.71,209.38 L782.02,205.29 L784.82,201.31 L788.1,197.44 L791.84,193.72 L796.02,190.15 L800.62,186.76 L805.63,183.57 L811.01,180.58 L816.74,177.82 L822.79,175.29 L829.13,173.01 L835.73,170.99 L842.57,169.24 L849.59,167.77 L856.78,166.59 L864.1,165.69 L871.51,165.09 L878.97,164.79 L886.45,164.79 L893.91,165.09 L901.31,165.69 L908.63,166.59 L915.82,167.77 L922.84,169.24 L929.68,170.99 L936.28,173.01 L942.62,175.29 L948.67,177.82 L954.4,180.58 L959.78,183.57 L964.79,186.76 L969.39,190.15 L973.57,193.72 L977.31,197.44 L980.59,201.31 L983.39,205.29 L985.71,209.38 L987.51,213.56 L988.81,217.79 L989.6,222.07 L989.86,226.37Z" stroke-width="1.05"/>
<path d="M984.09,226.37 L983.84,230.43 L983.1,234.48 L981.87,238.49 L980.16,242.43 L977.97,246.3 L975.32,250.08 L972.22,253.73 L968.68,257.26 L964.72,260.63 L960.37,263.84 L955.63,266.86 L950.54,269.69 L945.12,272.3 L939.4,274.69 L933.4,276.85 L927.15,278.76 L920.68,280.41 L914.03,281.81 L907.23,282.93 L900.31,283.77 L893.3,284.34 L886.24,284.62 L879.17,284.62 L872.11,284.34 L865.1,283.77 L858.18,282.93 L851.38,281.81 L844.73,280.41 L838.26,278.76 L832.02,276.85 L826.01,274.69 L820.29,272.3 L814.87,269.69 L809.78,266.86 L805.04,263.84 L800.69,260.63 L796.73,257.26 L793.19,253.73 L790.09,250.08 L787.44,246.3 L785.25,242.43 L783.54,238.49 L782.31,234.48 L781.57,230.43 L781.33,226.37 L781.57,222.3 L782.31,218.25 L783.54,214.25 L785.25,210.3 L787.44,206.43 L790.09,202.66 L793.19,199 L796.73,195.48 L800.69,192.1 L805.04,188.9 L809.78,185.87 L814.87,183.05 L820.29,180.43 L826.01,178.04 L832.02,175.88 L838.26,173.97 L844.73,172.32 L851.38,170.93 L858.18,169.81 L865.1,168.96 L872.11,168.39 L879.17,168.11 L886.24,168.11 L893.3,168.39 L900.31,168.96 L907.23,169.81 L914.03,170.93 L920.68,172.32 L927.15,173.97 L933.4,175.88 L939.4,178.04 L945.12,180.43 L950.54,183.05 L955.63,185.87 L960.37,188.9 L964.72,192.1 L968.68,195.48 L972.22,199 L975.32,202.66 L977.97,206.43 L980.16,210.3 L981.87,214.25 L983.1,218.25 L983.84,222.3 L984.09,226.37Z" stroke-width="1.05"/>
<path d="M986.97,226.37 L986.72,230.55 L985.96,234.71 L984.69,238.83 L982.93,242.89 L980.68,246.87 L977.96,250.75 L974.77,254.51 L971.13,258.14 L967.06,261.6 L962.58,264.9 L957.71,268.01 L952.47,270.92 L946.9,273.61 L941.01,276.07 L934.84,278.29 L928.41,280.25 L921.76,281.95 L914.93,283.38 L907.93,284.54 L900.81,285.41 L893.6,285.99 L886.34,286.28 L879.07,286.28 L871.81,285.99 L864.6,285.41 L857.48,284.54 L850.49,283.38 L843.65,281.95 L837,280.25 L830.57,278.29 L824.4,276.07 L818.51,273.61 L812.94,270.92 L807.7,268.01 L802.83,264.9 L798.35,261.6 L794.28,258.14 L790.64,254.51 L787.45,250.75 L784.73,246.87 L782.48,242.89 L780.72,238.83 L779.45,234.71 L778.69,230.55 L778.44,226.37 L778.69,222.18 L779.45,218.02 L780.72,213.9 L782.48,209.84 L784.73,205.86 L787.45,201.98 L790.64,198.22 L794.28,194.6 L798.35,191.13 L802.83,187.83 L807.7,184.72 L812.94,181.81 L818.51,179.12 L824.4,176.66 L830.57,174.45 L837,172.48 L843.65,170.78 L850.49,169.35 L857.48,168.2 L864.6,167.33 L871.81,166.74 L879.07,166.45 L886.34,166.45 L893.6,166.74 L900.81,167.33 L907.93,168.2 L914.93,169.35 L921.76,170.78 L928.41,172.48 L934.84,174.45 L941.01,176.66 L946.9,179.12 L952.47,181.81 L957.71,184.72 L962.58,187.83 L967.06,191.13 L971.13,194.6 L974.77,198.22 L977.96,201.98 L980.68,205.86 L982.93,209.84 L984.69,213.9 L985.96,218.02 L986.72,222.18 L986.97,226.37Z" stroke="#d0d0d0" stroke-width="2.41" stroke-dasharray="1.1 1.0"/>
<path d="M982.3,226.37 L982.05,230.36 L981.33,234.34 L980.12,238.27 L978.44,242.15 L976.29,245.95 L973.69,249.66 L970.64,253.25 L967.16,256.71 L963.28,260.02 L959,263.17 L954.34,266.14 L949.34,268.92 L944.02,271.49 L938.4,273.84 L932.5,275.96 L926.36,277.83 L920.01,279.46 L913.48,280.83 L906.8,281.93 L900,282.76 L893.12,283.31 L886.18,283.59 L879.23,283.59 L872.3,283.31 L865.41,282.76 L858.61,281.93 L851.93,280.83 L845.4,279.46 L839.05,277.83 L832.91,275.96 L827.02,273.84 L821.39,271.49 L816.07,268.92 L811.07,266.14 L806.42,263.17 L802.14,260.02 L798.25,256.71 L794.77,253.25 L791.73,249.66 L789.12,245.95 L786.97,242.15 L785.29,238.27 L784.09,234.34 L783.36,230.36 L783.12,226.37 L783.36,222.37 L784.09,218.4 L785.29,214.46 L786.97,210.58 L789.12,206.78 L791.73,203.08 L794.77,199.48 L798.25,196.02 L802.14,192.71 L806.42,189.56 L811.07,186.59 L816.07,183.81 L821.39,181.24 L827.02,178.89 L832.91,176.78 L839.05,174.9 L845.4,173.27 L851.93,171.91 L858.61,170.81 L865.41,169.97 L872.3,169.42 L879.23,169.14 L886.18,169.14 L893.12,169.42 L900,169.97 L906.8,170.81 L913.48,171.91 L920.01,173.27 L926.36,174.9 L932.5,176.78 L938.4,178.89 L944.02,181.24 L949.34,183.81 L954.34,186.59 L959,189.56 L963.28,192.71 L967.16,196.02 L970.64,199.48 L973.69,203.08 L976.29,206.78 L978.44,210.58 L980.12,214.46 L981.33,218.4 L982.05,222.37 L982.3,226.37Z" stroke-width="1.05"/>
<path d="M976.92,226.37 L976.69,230.15 L976.01,233.91 L974.86,237.63 L973.27,241.3 L971.24,244.89 L968.78,248.4 L965.89,251.8 L962.61,255.07 L958.93,258.21 L954.88,261.19 L950.48,264 L945.75,266.62 L940.71,269.06 L935.39,271.28 L929.81,273.28 L924.01,275.06 L918,276.59 L911.82,277.89 L905.5,278.93 L899.07,279.72 L892.55,280.24 L885.99,280.51 L879.42,280.51 L872.86,280.24 L866.34,279.72 L859.91,278.93 L853.59,277.89 L847.41,276.59 L841.4,275.06 L835.6,273.28 L830.02,271.28 L824.7,269.06 L819.66,266.62 L814.93,264 L810.53,261.19 L806.48,258.21 L802.81,255.07 L799.52,251.8 L796.63,248.4 L794.17,244.89 L792.14,241.3 L790.55,237.63 L789.41,233.91 L788.72,230.15 L788.49,226.37 L788.72,222.59 L789.41,218.83 L790.55,215.1 L792.14,211.43 L794.17,207.84 L796.63,204.33 L799.52,200.93 L802.81,197.66 L806.48,194.52 L810.53,191.54 L814.93,188.73 L819.66,186.11 L824.7,183.68 L830.02,181.45 L835.6,179.45 L841.4,177.68 L847.41,176.14 L853.59,174.84 L859.91,173.8 L866.34,173.02 L872.86,172.49 L879.42,172.23 L885.99,172.23 L892.55,172.49 L899.07,173.02 L905.5,173.8 L911.82,174.84 L918,176.14 L924.01,177.68 L929.81,179.45 L935.39,181.45 L940.71,183.68 L945.75,186.11 L950.48,188.73 L954.88,191.54 L958.93,194.52 L962.61,197.66 L965.89,200.93 L968.78,204.33 L971.24,207.84 L973.27,211.43 L974.86,215.1 L976.01,218.83 L976.69,222.59 L976.92,226.37Z" stroke-width="1.05"/>
<path d="M979.61,226.37 L979.37,230.25 L978.67,234.12 L977.49,237.95 L975.85,241.72 L973.76,245.42 L971.23,249.03 L968.27,252.52 L964.88,255.89 L961.1,259.12 L956.94,262.18 L952.41,265.07 L947.55,267.77 L942.37,270.27 L936.89,272.56 L931.16,274.62 L925.19,276.44 L919.01,278.03 L912.65,279.36 L906.15,280.43 L899.53,281.24 L892.83,281.78 L886.09,282.05 L879.32,282.05 L872.58,281.78 L865.88,281.24 L859.26,280.43 L852.76,279.36 L846.41,278.03 L840.23,276.44 L834.25,274.62 L828.52,272.56 L823.05,270.27 L817.86,267.77 L813,265.07 L808.47,262.18 L804.31,259.12 L800.53,255.89 L797.15,252.52 L794.18,249.03 L791.65,245.42 L789.56,241.72 L787.92,237.95 L786.75,234.12 L786.04,230.25 L785.8,226.37 L786.04,222.48 L786.75,218.61 L787.92,214.78 L789.56,211.01 L791.65,207.31 L794.18,203.7 L797.15,200.21 L800.53,196.84 L804.31,193.62 L808.47,190.55 L813,187.66 L817.86,184.96 L823.05,182.46 L828.52,180.17 L834.25,178.11 L840.23,176.29 L846.41,174.71 L852.76,173.38 L859.26,172.3 L865.88,171.5 L872.58,170.95 L879.32,170.68 L886.09,170.68 L892.83,170.95 L899.53,171.5 L906.15,172.3 L912.65,173.38 L919.01,174.71 L925.19,176.29 L931.16,178.11 L936.89,180.17 L942.37,182.46 L947.55,184.96 L952.41,187.66 L956.94,190.55 L961.1,193.62 L964.88,196.84 L968.27,200.21 L971.23,203.7 L973.76,207.31 L975.85,211.01 L977.49,214.78 L978.67,218.61 L979.37,222.48 L979.61,226.37Z" stroke="#d0d0d0" stroke-width="2.18" stroke-dasharray="1.1 1.0"/>
<path d="M983.19,226.37 L982.95,230.4 L982.21,234.41 L980.99,238.38 L979.3,242.29 L977.13,246.13 L974.5,249.87 L971.43,253.49 L967.92,256.98 L964,260.33 L959.68,263.5 L954.99,266.5 L949.94,269.3 L944.57,271.9 L938.9,274.27 L932.95,276.4 L926.76,278.3 L920.35,279.94 L913.76,281.32 L907.02,282.43 L900.15,283.27 L893.21,283.83 L886.21,284.11 L879.2,284.11 L872.2,283.83 L865.26,283.27 L858.4,282.43 L851.65,281.32 L845.06,279.94 L838.66,278.3 L832.46,276.4 L826.52,274.27 L820.84,271.9 L815.47,269.3 L810.42,266.5 L805.73,263.5 L801.41,260.33 L797.49,256.98 L793.98,253.49 L790.91,249.87 L788.28,246.13 L786.11,242.29 L784.42,238.38 L783.2,234.41 L782.47,230.4 L782.22,226.37 L782.47,222.34 L783.2,218.33 L784.42,214.35 L786.11,210.44 L788.28,206.61 L790.91,202.87 L793.98,199.24 L797.49,195.75 L801.41,192.41 L805.73,189.23 L810.42,186.23 L815.47,183.43 L820.84,180.84 L826.52,178.47 L832.46,176.33 L838.66,174.44 L845.06,172.8 L851.65,171.42 L858.4,170.31 L865.26,169.47 L872.2,168.91 L879.2,168.62 L886.21,168.62 L893.21,168.91 L900.15,169.47 L907.02,170.31 L913.76,171.42 L920.35,172.8 L926.76,174.44 L932.95,176.33 L938.9,178.47 L944.57,180.84 L949.94,183.43 L954.99,186.23 L959.68,189.23 L964,192.41 L967.92,195.75 L971.43,199.24 L974.5,202.87 L977.13,206.61 L979.3,210.44 L980.99,214.35 L982.21,218.33 L982.95,222.34 L983.19,226.37Z" stroke="#000" stroke-width="0.9"/>
<path d="M1000.51,320.45 L1000.42,321.83 L1000.17,323.19 L999.76,324.54 L999.18,325.88 L998.44,327.18 L997.55,328.46 L996.5,329.69 L995.31,330.88 L993.97,332.02 L992.5,333.1 L990.9,334.12 L989.18,335.08 L987.35,335.96 L985.42,336.77 L983.39,337.5 L981.28,338.14 L979.1,338.7 L976.86,339.17 L974.56,339.55 L972.22,339.83 L969.86,340.02 L967.48,340.12 L965.09,340.12 L962.7,340.02 L960.34,339.83 L958,339.55 L955.71,339.17 L953.46,338.7 L951.28,338.14 L949.17,337.5 L947.14,336.77 L945.21,335.96 L943.38,335.08 L941.66,334.12 L940.06,333.1 L938.59,332.02 L937.26,330.88 L936.06,329.69 L935.02,328.46 L934.12,327.18 L933.38,325.88 L932.8,324.54 L932.39,323.19 L932.14,321.83 L932.06,320.45 L932.14,319.08 L932.39,317.71 L932.8,316.36 L933.38,315.03 L934.12,313.72 L935.02,312.45 L936.06,311.21 L937.26,310.02 L938.59,308.89 L940.06,307.8 L941.66,306.78 L943.38,305.83 L945.21,304.95 L947.14,304.14 L949.17,303.41 L951.28,302.77 L953.46,302.21 L955.71,301.74 L958,301.36 L960.34,301.07 L962.7,300.88 L965.09,300.79 L967.48,300.79 L969.86,300.88 L972.22,301.07 L974.56,301.36 L976.86,301.74 L979.1,302.21 L981.28,302.77 L983.39,303.41 L985.42,304.14 L987.35,304.95 L989.18,305.83 L990.9,306.78 L992.5,307.8 L993.97,308.89 L995.31,310.02 L996.5,311.21 L997.55,312.45 L998.44,313.72 L999.18,315.03 L999.76,316.36 L1000.17,317.71 L1000.42,319.08 L1000.51,320.45Z" stroke-width="1.3"/>
<path d="M998.42,320.45 L998.34,321.74 L998.1,323.02 L997.71,324.29 L997.17,325.55 L996.48,326.77 L995.64,327.97 L994.66,329.13 L993.53,330.24 L992.28,331.31 L990.9,332.33 L989.4,333.29 L987.78,334.18 L986.07,335.01 L984.25,335.77 L982.35,336.45 L980.37,337.06 L978.32,337.58 L976.21,338.03 L974.06,338.38 L971.86,338.65 L969.64,338.83 L967.4,338.92 L965.16,338.92 L962.92,338.83 L960.7,338.65 L958.51,338.38 L956.35,338.03 L954.24,337.58 L952.19,337.06 L950.21,336.45 L948.31,335.77 L946.5,335.01 L944.78,334.18 L943.17,333.29 L941.66,332.33 L940.28,331.31 L939.03,330.24 L937.91,329.13 L936.92,327.97 L936.08,326.77 L935.39,325.55 L934.85,324.29 L934.46,323.02 L934.22,321.74 L934.15,320.45 L934.22,319.16 L934.46,317.88 L934.85,316.61 L935.39,315.36 L936.08,314.13 L936.92,312.94 L937.91,311.78 L939.03,310.66 L940.28,309.59 L941.66,308.58 L943.17,307.62 L944.78,306.72 L946.5,305.89 L948.31,305.13 L950.21,304.45 L952.19,303.85 L954.24,303.32 L956.35,302.88 L958.51,302.52 L960.7,302.26 L962.92,302.08 L965.16,301.99 L967.4,301.99 L969.64,302.08 L971.86,302.26 L974.06,302.52 L976.21,302.88 L978.32,303.32 L980.37,303.85 L982.35,304.45 L984.25,305.13 L986.07,305.89 L987.78,306.72 L989.4,307.62 L990.9,308.58 L992.28,309.59 L993.53,310.66 L994.66,311.78 L995.64,312.94 L996.48,314.13 L997.17,315.36 L997.71,316.61 L998.1,317.88 L998.34,319.16 L998.42,320.45Z"/>
<path d="M999.46,320.45 L999.38,321.78 L999.14,323.11 L998.74,324.42 L998.18,325.71 L997.46,326.98 L996.59,328.21 L995.58,329.41 L994.42,330.56 L993.12,331.67 L991.7,332.72 L990.15,333.71 L988.48,334.63 L986.71,335.49 L984.84,336.27 L982.87,336.97 L980.83,337.6 L978.71,338.14 L976.53,338.6 L974.31,338.96 L972.04,339.24 L969.75,339.43 L967.44,339.52 L965.12,339.52 L962.81,339.43 L960.52,339.24 L958.25,338.96 L956.03,338.6 L953.85,338.14 L951.74,337.6 L949.69,336.97 L947.73,336.27 L945.85,335.49 L944.08,334.63 L942.41,333.71 L940.86,332.72 L939.44,331.67 L938.14,330.56 L936.99,329.41 L935.97,328.21 L935.1,326.98 L934.39,325.71 L933.83,324.42 L933.42,323.11 L933.18,321.78 L933.1,320.45 L933.18,319.12 L933.42,317.8 L933.83,316.49 L934.39,315.19 L935.1,313.93 L935.97,312.69 L936.99,311.5 L938.14,310.34 L939.44,309.24 L940.86,308.19 L942.41,307.2 L944.08,306.28 L945.85,305.42 L947.73,304.64 L949.69,303.93 L951.74,303.31 L953.85,302.76 L956.03,302.31 L958.25,301.94 L960.52,301.66 L962.81,301.48 L965.12,301.39 L967.44,301.39 L969.75,301.48 L972.04,301.66 L974.31,301.94 L976.53,302.31 L978.71,302.76 L980.83,303.31 L982.87,303.93 L984.84,304.64 L986.71,305.42 L988.48,306.28 L990.15,307.2 L991.7,308.19 L993.12,309.24 L994.42,310.34 L995.58,311.5 L996.59,312.69 L997.46,313.93 L998.18,315.19 L998.74,316.49 L999.14,317.8 L999.38,319.12 L999.46,320.45Z" stroke="#aaaaaa" stroke-width="1.6" stroke-dasharray="1.2 1"/>
<path d="M993.54,320.45 L993.48,321.55 L993.28,322.63 L992.95,323.71 L992.49,324.77 L991.9,325.81 L991.18,326.83 L990.35,327.81 L989.4,328.76 L988.34,329.67 L987.16,330.53 L985.89,331.34 L984.52,332.1 L983.06,332.8 L981.53,333.45 L979.91,334.03 L978.23,334.54 L976.49,334.99 L974.71,335.36 L972.88,335.66 L971.02,335.89 L969.13,336.04 L967.23,336.12 L965.33,336.12 L963.43,336.04 L961.55,335.89 L959.69,335.66 L957.86,335.36 L956.07,334.99 L954.33,334.54 L952.65,334.03 L951.04,333.45 L949.5,332.8 L948.04,332.1 L946.67,331.34 L945.4,330.53 L944.23,329.67 L943.16,328.76 L942.21,327.81 L941.38,326.83 L940.67,325.81 L940.08,324.77 L939.62,323.71 L939.29,322.63 L939.09,321.55 L939.02,320.45 L939.09,319.36 L939.29,318.27 L939.62,317.19 L940.08,316.13 L940.67,315.09 L941.38,314.08 L942.21,313.09 L943.16,312.15 L944.23,311.24 L945.4,310.38 L946.67,309.56 L948.04,308.8 L949.5,308.1 L951.04,307.46 L952.65,306.88 L954.33,306.37 L956.07,305.92 L957.86,305.55 L959.69,305.24 L961.55,305.02 L963.43,304.86 L965.33,304.79 L967.23,304.79 L969.13,304.86 L971.02,305.02 L972.88,305.24 L974.71,305.55 L976.49,305.92 L978.23,306.37 L979.91,306.88 L981.53,307.46 L983.06,308.1 L984.52,308.8 L985.89,309.56 L987.16,310.38 L988.34,311.24 L989.4,312.15 L990.35,313.09 L991.18,314.08 L991.9,315.09 L992.49,316.13 L992.95,317.19 L993.28,318.27 L993.48,319.36 L993.54,320.45Z" stroke="#cfcfcf"/>
<path d="M975.78,320.45 L975.84,320.63 L976,320.8 L976.25,320.99 L976.58,321.2 L976.96,321.43 L977.36,321.67 L977.75,321.93 L978.11,322.2 L978.39,322.48 L978.59,322.75 L978.67,323.02 L978.63,323.27 L978.47,323.49 L978.19,323.68 L977.81,323.83 L977.33,323.95 L976.79,324.03 L976.21,324.08 L975.61,324.1 L975.03,324.11 L974.48,324.11 L974,324.12 L973.58,324.15 L973.25,324.22 L973,324.32 L972.83,324.46 L972.72,324.65 L972.67,324.89 L972.64,325.17 L972.64,325.48 L972.62,325.82 L972.58,326.16 L972.5,326.5 L972.36,326.81 L972.15,327.08 L971.89,327.3 L971.56,327.46 L971.17,327.56 L970.74,327.58 L970.28,327.53 L969.8,327.42 L969.32,327.25 L968.85,327.05 L968.4,326.82 L967.97,326.59 L967.58,326.38 L967.22,326.19 L966.89,326.04 L966.58,325.95 L966.28,325.92 L965.98,325.95 L965.67,326.04 L965.34,326.19 L964.98,326.38 L964.59,326.59 L964.17,326.82 L963.72,327.05 L963.25,327.25 L962.76,327.42 L962.28,327.53 L961.82,327.58 L961.39,327.56 L961.01,327.46 L960.68,327.3 L960.41,327.08 L960.21,326.81 L960.07,326.5 L959.98,326.16 L959.94,325.82 L959.93,325.48 L959.92,325.17 L959.9,324.89 L959.84,324.65 L959.74,324.46 L959.56,324.32 L959.31,324.22 L958.98,324.15 L958.56,324.12 L958.08,324.11 L957.53,324.11 L956.95,324.1 L956.36,324.08 L955.77,324.03 L955.23,323.95 L954.75,323.83 L954.37,323.68 L954.09,323.49 L953.93,323.27 L953.89,323.02 L953.98,322.75 L954.17,322.48 L954.46,322.2 L954.81,321.93 L955.2,321.67 L955.6,321.43 L955.98,321.2 L956.31,320.99 L956.57,320.8 L956.73,320.63 L956.78,320.45 L956.73,320.28 L956.57,320.1 L956.31,319.91 L955.98,319.7 L955.6,319.48 L955.2,319.24 L954.81,318.98 L954.46,318.71 L954.17,318.43 L953.98,318.15 L953.89,317.89 L953.93,317.64 L954.09,317.42 L954.37,317.23 L954.75,317.08 L955.23,316.96 L955.77,316.88 L956.36,316.83 L956.95,316.81 L957.53,316.8 L958.08,316.79 L958.56,316.78 L958.98,316.75 L959.31,316.69 L959.56,316.59 L959.74,316.45 L959.84,316.25 L959.9,316.02 L959.92,315.74 L959.93,315.42 L959.94,315.09 L959.98,314.75 L960.07,314.41 L960.21,314.1 L960.41,313.82 L960.68,313.6 L961.01,313.44 L961.39,313.35 L961.82,313.33 L962.28,313.38 L962.76,313.49 L963.25,313.65 L963.72,313.86 L964.17,314.08 L964.59,314.31 L964.98,314.53 L965.34,314.72 L965.67,314.87 L965.98,314.96 L966.28,314.99 L966.58,314.96 L966.89,314.87 L967.22,314.72 L967.58,314.53 L967.97,314.31 L968.4,314.08 L968.85,313.86 L969.32,313.65 L969.8,313.49 L970.28,313.38 L970.74,313.33 L971.17,313.35 L971.56,313.44 L971.89,313.6 L972.15,313.82 L972.36,314.1 L972.5,314.41 L972.58,314.75 L972.62,315.09 L972.64,315.42 L972.64,315.74 L972.67,316.02 L972.72,316.25 L972.83,316.45 L973,316.59 L973.25,316.69 L973.58,316.75 L974,316.78 L974.48,316.79 L975.03,316.8 L975.61,316.81 L976.21,316.83 L976.79,316.88 L977.33,316.96 L977.81,317.08 L978.19,317.23 L978.47,317.42 L978.63,317.64 L978.67,317.89 L978.59,318.15 L978.39,318.43 L978.11,318.71 L977.75,318.98 L977.36,319.24 L976.96,319.48 L976.58,319.7 L976.25,319.91 L976,320.1 L975.84,320.28 L975.78,320.45" stroke-width="1.3"/>
<path d="M974.98,320.45 L974.94,320.61 L974.8,320.76 L974.59,320.9 L974.31,321.04 L973.99,321.15 L973.63,321.26 L973.27,321.35 L972.91,321.43 L972.59,321.51 L972.32,321.58 L972.11,321.66 L971.96,321.75 L971.89,321.85 L971.88,321.97 L971.94,322.11 L972.04,322.27 L972.17,322.46 L972.32,322.66 L972.47,322.87 L972.59,323.09 L972.68,323.31 L972.71,323.51 L972.69,323.7 L972.59,323.86 L972.43,323.99 L972.21,324.08 L971.93,324.14 L971.6,324.15 L971.24,324.13 L970.87,324.08 L970.49,324.01 L970.12,323.93 L969.77,323.84 L969.45,323.76 L969.16,323.71 L968.92,323.67 L968.71,323.68 L968.53,323.72 L968.38,323.8 L968.24,323.92 L968.11,324.08 L967.98,324.27 L967.84,324.47 L967.68,324.68 L967.5,324.88 L967.3,325.07 L967.07,325.23 L966.82,325.35 L966.55,325.43 L966.28,325.46 L966.01,325.43 L965.75,325.35 L965.5,325.23 L965.27,325.07 L965.06,324.88 L964.88,324.68 L964.72,324.47 L964.58,324.27 L964.45,324.08 L964.32,323.92 L964.18,323.8 L964.03,323.72 L963.85,323.68 L963.65,323.67 L963.4,323.71 L963.12,323.76 L962.8,323.84 L962.45,323.93 L962.08,324.01 L961.7,324.08 L961.32,324.13 L960.96,324.15 L960.63,324.14 L960.35,324.08 L960.13,323.99 L959.97,323.86 L959.88,323.7 L959.85,323.51 L959.88,323.31 L959.97,323.09 L960.09,322.87 L960.24,322.66 L960.39,322.46 L960.52,322.27 L960.63,322.11 L960.68,321.97 L960.67,321.85 L960.6,321.75 L960.46,321.66 L960.24,321.58 L959.97,321.51 L959.65,321.43 L959.3,321.35 L958.93,321.26 L958.58,321.15 L958.25,321.04 L957.97,320.9 L957.76,320.76 L957.63,320.61 L957.58,320.45 L957.63,320.3 L957.76,320.14 L957.97,320 L958.25,319.87 L958.58,319.75 L958.93,319.65 L959.3,319.56 L959.65,319.47 L959.97,319.4 L960.24,319.33 L960.46,319.25 L960.6,319.16 L960.67,319.06 L960.68,318.94 L960.63,318.8 L960.52,318.63 L960.39,318.45 L960.24,318.25 L960.09,318.03 L959.97,317.82 L959.88,317.6 L959.85,317.39 L959.88,317.21 L959.97,317.04 L960.13,316.92 L960.35,316.82 L960.63,316.77 L960.96,316.75 L961.32,316.77 L961.7,316.82 L962.08,316.89 L962.45,316.98 L962.8,317.06 L963.12,317.14 L963.4,317.2 L963.65,317.23 L963.85,317.23 L964.03,317.19 L964.18,317.1 L964.32,316.98 L964.45,316.82 L964.58,316.64 L964.72,316.44 L964.88,316.23 L965.06,316.02 L965.27,315.83 L965.5,315.67 L965.75,315.55 L966.01,315.48 L966.28,315.45 L966.55,315.48 L966.82,315.55 L967.07,315.67 L967.3,315.83 L967.5,316.02 L967.68,316.23 L967.84,316.44 L967.98,316.64 L968.11,316.82 L968.24,316.98 L968.38,317.1 L968.53,317.19 L968.71,317.23 L968.92,317.23 L969.16,317.2 L969.45,317.14 L969.77,317.06 L970.12,316.98 L970.49,316.89 L970.87,316.82 L971.24,316.77 L971.6,316.75 L971.93,316.77 L972.21,316.82 L972.43,316.92 L972.59,317.04 L972.69,317.21 L972.71,317.39 L972.68,317.6 L972.59,317.82 L972.47,318.03 L972.32,318.25 L972.17,318.45 L972.04,318.63 L971.94,318.8 L971.88,318.94 L971.89,319.06 L971.96,319.16 L972.11,319.25 L972.32,319.33 L972.59,319.4 L972.91,319.47 L973.27,319.56 L973.63,319.65 L973.99,319.75 L974.31,319.87 L974.59,320 L974.8,320.14 L974.94,320.3 L974.98,320.45" stroke-width="1.2"/>
<path d="M974.91,325.41 L976.32,326.23" stroke-width="1.4"/>
<path d="M957.65,325.41 L956.24,326.23" stroke-width="1.4"/>
<path d="M957.65,315.49 L956.24,314.68" stroke-width="1.4"/>
<path d="M974.91,315.49 L976.32,314.68" stroke-width="1.4"/>
<path d="M975.88,320.45 L978.88,320.45" stroke-width="1.1"/>
<path d="M966.28,325.97 L966.28,327.7" stroke-width="1.1"/>
<path d="M956.68,320.45 L953.68,320.45" stroke-width="1.1"/>
<path d="M966.28,314.93 L966.28,313.21" stroke-width="1.1"/>
<path d="M961.98,321.56 L961.98,318.61 L966.28,320.64 L970.58,318.61 L970.58,321.56" stroke-width="1.1"/>
<path d="M961.48,322.29 L971.08,322.29" stroke-width="1.3"/>
<path d="M787.25,228.85 A95.7,95.7 0 0 1 978.65,228.85 A95.22,54.74 0 0 1 787.25,228.85Z" fill="#000"/>
<path d="M774.37,287.89 L774.09,292.01 L772.54,296.77"/>
<path d="M794.49,299.46 L790.12,301.23 L787.45,305.35"/>
<path d="M791.99,321.52 L792.37,321.27 L792.74,321 L793.08,320.68 L793.39,320.34 L793.69,319.96 L793.95,319.55 L794.2,319.11 L794.41,318.64 L794.6,318.14 L794.76,317.62 L794.89,317.07 L794.99,316.5 L795.06,315.9 L795.11,315.29 L795.12,314.66 L795.11,314.01 L795.06,313.34 L794.99,312.66 L794.89,311.97 L794.76,311.28 L794.6,310.57 L794.41,309.86 L794.2,309.14 L793.95,308.42 L793.69,307.71 L793.39,306.99 L793.08,306.28 L792.74,305.58 L792.37,304.88 L791.99,304.19 L791.58,303.52 L791.16,302.86 L790.71,302.21 L790.25,301.58 L789.77,300.97 L789.28,300.38 L788.78,299.82 L788.26,299.27 L787.73,298.76 L787.19,298.26 L786.65,297.8 L786.1,297.37 L785.54,296.97 L784.99,296.59 L784.43,296.26 L783.87,295.95 L783.31,295.68 L782.75,295.44 L782.2,295.25 L781.66,295.08 L781.12,294.96 L780.59,294.87 L780.08,294.81 L779.57,294.8 L779.08,294.82 L778.6,294.88 L778.14,294.98 L777.7,295.12 L777.27,295.29 L776.87,295.5 L770.82,298.98 L771.22,298.77 L771.65,298.6 L772.09,298.46 L772.55,298.36 L773.03,298.3 L773.52,298.28 L774.03,298.29 L774.54,298.34 L775.07,298.43 L775.61,298.56 L776.15,298.72 L776.7,298.92 L777.26,299.16 L777.82,299.43 L778.38,299.73 L778.94,300.07 L779.49,300.44 L780.05,300.85 L780.6,301.28 L781.14,301.74 L781.68,302.23 L782.21,302.75 L782.73,303.29 L783.23,303.86 L783.72,304.45 L784.2,305.06 L784.66,305.69 L785.11,306.33 L785.53,307 L785.94,307.67 L786.32,308.36 L786.69,309.05 L787.03,309.76 L787.34,310.47 L787.64,311.18 L787.9,311.9 L788.15,312.62 L788.36,313.34 L788.55,314.05 L788.71,314.75 L788.84,315.45 L788.94,316.14 L789.01,316.82 L789.06,317.48 L789.07,318.13 L789.06,318.77 L789.01,319.38 L788.94,319.97 L788.84,320.55 L788.71,321.1 L788.55,321.62 L788.36,322.12 L788.15,322.59 L787.9,323.03 L787.64,323.44 L787.34,323.81 L787.03,324.16 L786.69,324.47 L786.32,324.75 L785.94,325Z" fill="#000" stroke-width="1.1"/>
<path d="M789.07,318.13 L789.01,316.82 L788.84,315.45 L788.55,314.05 L788.15,312.62 L787.64,311.18 L787.03,309.76 L786.32,308.36 L785.53,307 L784.66,305.69 L783.72,304.45 L782.73,303.29 L781.68,302.23 L780.6,301.28 L779.49,300.44 L778.38,299.73 L777.26,299.16 L776.15,298.72 L775.07,298.43 L774.03,298.29 L773.03,298.3 L772.09,298.46 L771.22,298.77 L770.43,299.22 L769.73,299.81 L769.12,300.54 L768.61,301.39 L768.21,302.35 L767.92,303.42 L767.74,304.59 L767.68,305.84 L767.74,307.15 L767.92,308.52 L768.21,309.92 L768.61,311.35 L769.12,312.79 L769.73,314.21 L770.43,315.61 L771.22,316.98 L772.09,318.28 L773.03,319.52 L774.03,320.68 L775.07,321.74 L776.15,322.69 L777.26,323.53 L778.38,324.24 L779.49,324.81 L780.6,325.25 L781.68,325.54 L782.73,325.68 L783.72,325.67 L784.66,325.51 L785.53,325.2 L786.32,324.75 L787.03,324.16 L787.64,323.44 L788.15,322.59 L788.55,321.62 L788.84,320.55 L789.01,319.38 L789.07,318.13Z" stroke-width="1.1"/>
<path d="M787.24,317.08 L787.19,315.99 L787.05,314.86 L786.81,313.69 L786.47,312.51 L786.05,311.32 L785.55,310.14 L784.96,308.98 L784.31,307.85 L783.59,306.77 L782.81,305.74 L781.98,304.78 L781.12,303.9 L780.22,303.11 L779.3,302.42 L778.38,301.83 L777.45,301.35 L776.53,300.99 L775.64,300.75 L774.77,300.64 L773.94,300.64 L773.17,300.77 L772.45,301.03 L771.79,301.4 L771.21,301.89 L770.7,302.49 L770.28,303.2 L769.95,304 L769.71,304.89 L769.56,305.86 L769.51,306.89 L769.56,307.98 L769.71,309.11 L769.95,310.28 L770.28,311.46 L770.7,312.65 L771.21,313.83 L771.79,314.99 L772.45,316.12 L773.17,317.21 L773.94,318.23 L774.77,319.19 L775.64,320.07 L776.53,320.86 L777.45,321.55 L778.38,322.14 L779.3,322.62 L780.22,322.98 L781.12,323.22 L781.98,323.34 L782.81,323.33 L783.59,323.2 L784.31,322.94 L784.96,322.57 L785.55,322.08 L786.05,321.48 L786.47,320.77 L786.81,319.97 L787.05,319.08 L787.19,318.12 L787.24,317.08Z"/>
<path d="M783.25,320.37 L783.5,320.22 L783.73,320.04 L783.95,319.84 L784.16,319.61 L784.35,319.37 L784.52,319.1 L784.67,318.82 L784.81,318.52 L784.93,318.2 L785.04,317.86 L785.12,317.51 L785.19,317.14 L785.23,316.75 L785.26,316.36 L785.27,315.95 L785.26,315.53 L785.23,315.1 L785.19,314.67 L785.12,314.22 L785.04,313.77 L784.93,313.31 L784.81,312.86 L784.67,312.39 L784.52,311.93 L784.35,311.47 L784.16,311.01 L783.95,310.55 L783.73,310.1 L783.5,309.65 L783.25,309.2 L782.99,308.77 L782.72,308.34 L782.43,307.93 L782.13,307.52 L781.82,307.13 L781.51,306.75 L781.18,306.38 L780.85,306.03 L780.51,305.7 L780.16,305.38 L779.81,305.08 L779.46,304.8 L779.1,304.54 L778.74,304.31 L778.38,304.09 L778.02,303.89 L777.66,303.72 L777.3,303.56 L776.94,303.44 L776.59,303.33 L776.25,303.25 L775.91,303.19 L775.57,303.16 L775.25,303.15 L774.93,303.16 L774.62,303.2 L774.32,303.27 L774.04,303.35 L773.76,303.46 L773.5,303.6 L769.98,305.62 L770.25,305.49 L770.52,305.37 L770.81,305.29 L771.1,305.22 L771.41,305.19 L771.73,305.17 L772.05,305.18 L772.39,305.21 L772.73,305.27 L773.07,305.35 L773.43,305.46 L773.78,305.59 L774.14,305.74 L774.5,305.91 L774.86,306.11 L775.22,306.33 L775.58,306.57 L775.94,306.83 L776.29,307.11 L776.64,307.4 L776.99,307.72 L777.33,308.05 L777.66,308.4 L777.99,308.77 L778.31,309.15 L778.61,309.54 L778.91,309.95 L779.2,310.36 L779.47,310.79 L779.73,311.23 L779.98,311.67 L780.22,312.12 L780.44,312.57 L780.64,313.03 L780.83,313.49 L781,313.95 L781.16,314.42 L781.3,314.88 L781.42,315.34 L781.52,315.79 L781.6,316.24 L781.67,316.69 L781.72,317.12 L781.74,317.55 L781.75,317.97 L781.74,318.38 L781.72,318.78 L781.67,319.16 L781.6,319.53 L781.52,319.88 L781.42,320.22 L781.3,320.54 L781.16,320.84 L781,321.13 L780.83,321.39 L780.64,321.63 L780.44,321.86 L780.22,322.06 L779.98,322.24 L779.73,322.4Z" fill="#000" stroke-width="1.1"/>
<path d="M781.75,317.97 L781.72,317.12 L781.6,316.24 L781.42,315.34 L781.16,314.42 L780.83,313.49 L780.44,312.57 L779.98,311.67 L779.47,310.79 L778.91,309.95 L778.31,309.15 L777.66,308.4 L776.99,307.72 L776.29,307.11 L775.58,306.57 L774.86,306.11 L774.14,305.74 L773.43,305.46 L772.73,305.27 L772.05,305.18 L771.41,305.19 L770.81,305.29 L770.25,305.49 L769.74,305.78 L769.28,306.16 L768.89,306.63 L768.56,307.17 L768.3,307.8 L768.12,308.49 L768,309.24 L767.96,310.04 L768,310.89 L768.12,311.77 L768.3,312.68 L768.56,313.6 L768.89,314.52 L769.28,315.44 L769.74,316.35 L770.25,317.23 L770.81,318.07 L771.41,318.87 L772.05,319.61 L772.73,320.3 L773.43,320.91 L774.14,321.45 L774.86,321.91 L775.58,322.28 L776.29,322.56 L776.99,322.75 L777.66,322.84 L778.31,322.83 L778.91,322.73 L779.47,322.53 L779.98,322.24 L780.44,321.86 L780.83,321.39 L781.16,320.84 L781.42,320.22 L781.6,319.53 L781.72,318.78 L781.75,317.97Z" stroke-width="1.1"/>
<path d="M780.23,323.25 L780.51,323.08 L780.76,322.88 L781.01,322.66 L781.23,322.41 L781.44,322.14 L781.63,321.85 L781.8,321.54 L781.95,321.21 L782.08,320.85 L782.2,320.48 L782.29,320.09 L782.36,319.68 L782.42,319.26 L782.45,318.83 L782.46,318.38 L782.45,317.92 L782.42,317.44 L782.36,316.96 L782.29,316.47 L782.2,315.97 L782.08,315.47 L781.95,314.97 L781.8,314.46 L781.63,313.95 L781.44,313.44 L781.23,312.93 L781.01,312.43 L780.76,311.93 L780.51,311.43 L780.23,310.94 L779.94,310.46 L779.64,309.99 L779.32,309.53 L779,309.09 L778.66,308.65 L778.31,308.24 L777.95,307.83 L777.58,307.45 L777.21,307.08 L776.83,306.73 L776.44,306.4 L776.05,306.09 L775.65,305.81 L775.26,305.54 L774.86,305.3 L774.46,305.09 L774.06,304.89 L773.67,304.73 L773.28,304.59 L772.89,304.47 L772.51,304.38 L772.14,304.32 L771.77,304.28 L771.41,304.27 L771.06,304.29 L770.72,304.33 L770.39,304.4 L770.08,304.49 L769.78,304.62 L769.49,304.76 L763.08,308.44 L763.37,308.3 L763.68,308.17 L763.99,308.08 L764.32,308.01 L764.66,307.97 L765.01,307.95 L765.37,307.96 L765.73,308 L766.11,308.06 L766.49,308.15 L766.88,308.27 L767.27,308.41 L767.66,308.58 L768.06,308.77 L768.46,308.98 L768.85,309.22 L769.25,309.49 L769.65,309.77 L770.04,310.08 L770.42,310.41 L770.81,310.76 L771.18,311.13 L771.55,311.51 L771.91,311.92 L772.26,312.33 L772.6,312.77 L772.92,313.21 L773.24,313.67 L773.54,314.14 L773.83,314.62 L774.1,315.11 L774.36,315.61 L774.6,316.11 L774.83,316.61 L775.04,317.12 L775.23,317.63 L775.4,318.14 L775.55,318.65 L775.68,319.15 L775.8,319.66 L775.89,320.15 L775.96,320.64 L776.01,321.12 L776.04,321.6 L776.06,322.06 L776.04,322.51 L776.01,322.94 L775.96,323.37 L775.89,323.77 L775.8,324.16 L775.68,324.53 L775.55,324.89 L775.4,325.22 L775.23,325.53 L775.04,325.82 L774.83,326.09 L774.6,326.34 L774.36,326.56 L774.1,326.76 L773.83,326.93Z" fill="#000" stroke-width="1.1"/>
<path d="M776.06,322.06 L776.01,321.12 L775.89,320.15 L775.68,319.15 L775.4,318.14 L775.04,317.12 L774.6,316.11 L774.1,315.11 L773.54,314.14 L772.92,313.21 L772.26,312.33 L771.55,311.51 L770.81,310.76 L770.04,310.08 L769.25,309.49 L768.46,308.98 L767.66,308.58 L766.88,308.27 L766.11,308.06 L765.37,307.96 L764.66,307.97 L763.99,308.08 L763.37,308.3 L762.81,308.62 L762.31,309.04 L761.88,309.55 L761.52,310.16 L761.23,310.84 L761.03,311.61 L760.9,312.43 L760.86,313.32 L760.9,314.25 L761.03,315.23 L761.23,316.22 L761.52,317.24 L761.88,318.26 L762.31,319.27 L762.81,320.27 L763.37,321.23 L763.99,322.16 L764.66,323.04 L765.37,323.86 L766.11,324.62 L766.88,325.3 L767.66,325.89 L768.46,326.39 L769.25,326.8 L770.04,327.11 L770.81,327.32 L771.55,327.42 L772.26,327.41 L772.92,327.3 L773.54,327.08 L774.1,326.76 L774.6,326.34 L775.04,325.82 L775.4,325.22 L775.68,324.53 L775.89,323.77 L776.01,322.94 L776.06,322.06Z" stroke-width="1.1"/>
<path d="M774.37,321.09 L774.33,320.36 L774.24,319.61 L774.08,318.83 L773.86,318.04 L773.57,317.25 L773.24,316.46 L772.85,315.68 L772.41,314.93 L771.93,314.21 L771.41,313.52 L770.86,312.89 L770.28,312.3 L769.69,311.77 L769.07,311.31 L768.46,310.92 L767.84,310.6 L767.23,310.36 L766.63,310.2 L766.05,310.12 L765.5,310.13 L764.98,310.21 L764.5,310.38 L764.07,310.63 L763.68,310.96 L763.34,311.36 L763.06,311.83 L762.84,312.37 L762.68,312.96 L762.58,313.6 L762.55,314.29 L762.58,315.02 L762.68,315.77 L762.84,316.55 L763.06,317.34 L763.34,318.13 L763.68,318.92 L764.07,319.69 L764.5,320.45 L764.98,321.17 L765.5,321.85 L766.05,322.49 L766.63,323.08 L767.23,323.61 L767.84,324.07 L768.46,324.46 L769.07,324.78 L769.69,325.02 L770.28,325.18 L770.86,325.26 L771.41,325.25 L771.93,325.16 L772.41,324.99 L772.85,324.74 L773.24,324.42 L773.57,324.02 L773.86,323.55 L774.08,323.01 L774.24,322.42 L774.33,321.78 L774.37,321.09Z" stroke-width="0.9"/>
<path d="M773.52,320.6 L773.46,320.34 L773.29,320.03 L773.03,319.7 L772.69,319.36 L772.32,319.03 L771.95,318.74 L771.61,318.48 L771.34,318.27 L771.15,318.1 L771.06,317.95 L771.06,317.81 L771.16,317.67 L771.32,317.5 L771.52,317.3 L771.73,317.06 L771.93,316.8 L772.07,316.5 L772.15,316.2 L772.14,315.91 L772.04,315.64 L771.86,315.43 L771.61,315.27 L771.31,315.19 L770.98,315.16 L770.65,315.19 L770.33,315.26 L770.06,315.33 L769.83,315.39 L769.66,315.39 L769.53,315.33 L769.45,315.18 L769.39,314.93 L769.35,314.59 L769.3,314.17 L769.23,313.7 L769.13,313.22 L769,312.76 L768.84,312.37 L768.65,312.07 L768.46,311.89 L768.26,311.84 L768.08,311.93 L767.92,312.14 L767.79,312.45 L767.69,312.82 L767.62,313.21 L767.57,313.56 L767.52,313.85 L767.46,314.03 L767.38,314.09 L767.26,314.01 L767.08,313.81 L766.86,313.49 L766.58,313.1 L766.27,312.68 L765.94,312.27 L765.61,311.91 L765.31,311.65 L765.06,311.52 L764.88,311.53 L764.78,311.68 L764.77,311.96 L764.84,312.35 L764.99,312.81 L765.18,313.3 L765.39,313.78 L765.6,314.21 L765.76,314.56 L765.85,314.81 L765.86,314.96 L765.77,315 L765.58,314.96 L765.3,314.86 L764.96,314.72 L764.59,314.59 L764.22,314.49 L763.89,314.44 L763.62,314.47 L763.45,314.59 L763.39,314.78 L763.45,315.04 L763.62,315.34 L763.89,315.68 L764.22,316.02 L764.59,316.35 L764.96,316.64 L765.3,316.89 L765.58,317.11 L765.77,317.28 L765.86,317.43 L765.85,317.57 L765.76,317.71 L765.6,317.88 L765.39,318.08 L765.18,318.31 L764.99,318.58 L764.84,318.88 L764.77,319.18 L764.78,319.47 L764.88,319.73 L765.06,319.95 L765.31,320.1 L765.61,320.19 L765.94,320.21 L766.27,320.18 L766.58,320.12 L766.86,320.04 L767.08,319.99 L767.26,319.98 L767.38,320.05 L767.46,320.2 L767.52,320.45 L767.57,320.79 L767.62,321.21 L767.69,321.67 L767.79,322.16 L767.92,322.61 L768.08,323.01 L768.26,323.31 L768.46,323.49 L768.65,323.54 L768.84,323.45 L769,323.24 L769.13,322.93 L769.23,322.56 L769.3,322.17 L769.35,321.82 L769.39,321.53 L769.45,321.34 L769.53,321.29 L769.66,321.36 L769.83,321.57 L770.06,321.89 L770.33,322.28 L770.65,322.7 L770.98,323.11 L771.31,323.47 L771.61,323.73 L771.86,323.86 L772.04,323.85 L772.14,323.7 L772.15,323.42 L772.07,323.03 L771.93,322.57 L771.73,322.08 L771.52,321.6 L771.32,321.17 L771.16,320.82 L771.06,320.56 L771.06,320.42 L771.15,320.37 L771.34,320.42 L771.61,320.52 L771.95,320.66 L772.32,320.79 L772.69,320.89 L773.03,320.94 L773.29,320.91 L773.46,320.79 L773.52,320.6Z" stroke="#e0e0e0" stroke-width="1.6"/>
<circle cx="768.46" cy="317.69" r="2.2" stroke="#dddddd" stroke-width="1.8"/>
<path d="M859.27,153.81 A23.68,13.61 0 0 0 906.63,153.81 L902.85,146.63 A19.9,11.44 0 0 0 863.05,146.63 Z" fill="#000" stroke-width="1.1"/>
<ellipse cx="882.95" cy="146.63" rx="19.9" ry="11.44" stroke-width="1.1"/>
<path d="M863.05,146.63 A19.9,11.44 0 0 0 902.85,146.63 L917.77,135.51 A34.82,20.02 0 0 0 848.13,135.51 Z" fill="#000" stroke-width="1.1"/>
<ellipse cx="882.95" cy="135.51" rx="34.82" ry="20.02" stroke-width="1.1"/>
<path d="M854.6,135.35 A28.35,16.3 0 0 0 911.31,135.35 L919.07,122.13 A36.11,20.77 0 0 0 846.84,122.13 Z" fill="#000" stroke-width="1.1"/>
<ellipse cx="882.95" cy="122.13" rx="36.11" ry="20.77" stroke-width="1.1"/>
<path d="M846.84,122.13 A36.11,20.77 0 0 0 919.07,122.13 L919.07,119.71 A36.11,20.77 0 0 0 846.84,119.71 Z" fill="#000" stroke-width="1.1"/>
<ellipse cx="882.95" cy="119.71" rx="36.11" ry="20.77" stroke-width="1.1"/>
<path d="M844.55,119.55 A38.4,22.08 0 0 0 921.35,119.55 L921.35,116.49 A38.4,22.08 0 0 0 844.55,116.49 Z" fill="#000" stroke-width="1.2"/>
<ellipse cx="882.95" cy="116.49" rx="38.4" ry="22.08" stroke-width="1.2"/>
<clipPath id="clIso"><path d="M844.54,118.02 A38.41,30.3 0 0 1 921.36,118.02 A38.41,22.08 0 0 1 844.54,118.02Z"/></clipPath>
<path d="M844.54,118.02 A38.41,30.3 0 0 1 921.36,118.02 A38.41,22.08 0 0 1 844.54,118.02Z" fill="#000" stroke-width="1.5"/>
<g clip-path="url(#clIso)">
<path d="M846.08,118.02 A36.87,29.09 0 0 1 919.82,118.02 A36.87,21.2 0 0 1 846.08,118.02Z" stroke="#ececec" stroke-width="3.0" stroke-dasharray="1.6 0.6"/>
<path d="M849.15,118.02 A33.8,26.66 0 0 1 916.75,118.02 A33.8,19.43 0 0 1 849.15,118.02Z" stroke="#ececec" stroke-width="3.0" stroke-dasharray="1.9000000000000001 0.6"/>
<path d="M852.23,118.02 A30.73,24.24 0 0 1 913.68,118.02 A30.73,17.66 0 0 1 852.23,118.02Z" stroke="#ececec" stroke-width="3.0" stroke-dasharray="2.2 0.6"/>
<path d="M853.45,116.49 A29.5,27 0 0 1 912.45,116.49 A29.5,16.87 0 0 1 853.45,116.49Z" fill="#000" stroke-width="1.2"/>
<path d="M880.49,109.14 L879.87,109.63 L879.22,110.12 L878.54,110.6 L877.84,111.06 L877.12,111.51 L876.38,111.95 L875.62,112.37 L874.84,112.78 L874.05,113.17 L873.25,113.55 L872.44,113.91 L871.62,114.25 L870.8,114.57 L869.97,114.88 L869.14,115.17 L868.31,115.44 L867.49,115.69 L866.67,115.92 L865.86,116.13 L865.06,116.33 L864.27,116.5 L863.5,116.66 L862.74,116.8 L862,116.92 L861.28,117.02 L860.59,117.11 L859.91,117.18 L859.27,117.24 L858.65,117.28 L858.06,117.3 L857.5,117.31 L856.97,117.31 L856.48,117.29 L856.02,117.27 L855.6,117.23 L855.22,117.18 L854.88,117.12 L854.57,117.06 L854.31,116.99 L854.08,116.91" stroke-width="1.7"/>
<path d="M869.28,105.3 L868.55,105.47 L867.82,105.63 L867.1,105.77 L866.38,105.9 L865.68,106.01 L864.98,106.11 L864.3,106.19 L863.64,106.25 L862.99,106.3 L862.36,106.34 L861.75,106.36 L861.17,106.36 L860.62,106.36 L860.09,106.34 L859.58,106.31 L859.11,106.27 L858.68,106.22 L858.27,106.16 L857.9,106.1 L857.57,106.02 L857.27,105.94 L857.01,105.85 L856.79,105.75 L856.61,105.66 L856.47,105.56 L856.38,105.45 L856.32,105.35 L856.31,105.25" stroke-width="1.7"/>
<path d="M866.08,98.02 L865.67,97.92 L865.29,97.82 L864.94,97.71 L864.63,97.59 L864.36,97.47 L864.11,97.34 L863.91,97.21 L863.75,97.08 L863.62,96.94 L863.53,96.81 L863.49,96.67 L863.48,96.54 L863.52,96.41 L863.6,96.29 L863.72,96.17" stroke-width="1.7"/>
<path d="M872.76,91.57 L872.91,91.42 L873.1,91.27 L873.34,91.13 L873.61,91 L873.93,90.89" stroke-width="1.7"/>
<path d="M885.41,89.73 L886.03,89.76 L886.69,89.81 L887.36,89.89" stroke-width="1.7"/>
<path d="M896.62,93.57 L897.35,93.92 L898.08,94.3 L898.8,94.72 L899.52,95.16 L900.23,95.63 L900.92,96.13 L901.6,96.67 L902.27,97.23 L902.92,97.82 L903.54,98.43 L904.15,99.08 L904.73,99.75 L905.29,100.44 L905.82,101.16 L906.32,101.9 L906.79,102.67 L907.23,103.45 L907.63,104.26 L908,105.08 L908.34,105.92 L908.63,106.78 L908.89,107.65 L909.11,108.54 L909.29,109.44 L909.43,110.35 L909.53,111.27 L909.58,112.19 L909.6,113.13 L909.57,114.07 L909.49,115.01 L909.38,115.96 L909.22,116.9 L909.02,117.85 L908.78,118.79 L908.5,119.73 L908.17,120.67 L907.81,121.59 L907.4,122.52 L906.96,123.43 L906.47,124.33" stroke-width="1.7"/>
<path d="M899.83,100.85 L900.24,101.47 L900.61,102.11 L900.96,102.78 L901.27,103.47 L901.55,104.17 L901.79,104.9 L901.99,105.64 L902.16,106.4 L902.28,107.18 L902.37,107.96 L902.42,108.76 L902.42,109.57 L902.38,110.39 L902.31,111.22 L902.19,112.05 L902.02,112.89 L901.82,113.73 L901.58,114.57 L901.29,115.41 L900.96,116.26 L900.59,117.1 L900.18,117.94 L899.74,118.77 L899.25,119.59 L898.73,120.41 L898.17,121.22 L897.58,122.02 L896.95,122.81 L896.29,123.58 L895.6,124.34 L894.87,125.09 L894.13,125.82 L893.35,126.53 L892.55,127.23 L891.73,127.91 L890.89,128.56 L890.03,129.2 L889.15,129.81 L888.26,130.41 L887.35,130.98" stroke-width="1.7"/>
<path d="M893.15,107.29 L892.99,107.98 L892.8,108.67 L892.57,109.36 L892.29,110.06 L891.98,110.75 L891.62,111.45 L891.23,112.15 L890.8,112.85 L890.33,113.54 L889.82,114.22 L889.28,114.91 L888.71,115.58 L888.1,116.24 L887.46,116.9 L886.79,117.54 L886.09,118.18 L885.36,118.8 L884.61,119.4 L883.83,119.99 L883.04,120.57 L882.22,121.13 L881.38,121.67 L880.53,122.19 L879.66,122.69 L878.79,123.18 L877.9,123.64 L877,124.09 L876.1,124.51 L875.2,124.91 L874.29,125.29 L873.38,125.65 L872.48,125.99 L871.59,126.3 L870.7,126.6 L869.82,126.87 L868.95,127.12 L868.1,127.35 L867.27,127.55 L866.45,127.74 L865.65,127.91" stroke-width="1.7"/>
<path d="M899.83,98.02 L900.24,97.92 L900.61,97.82 L900.96,97.71 L901.27,97.59 L901.55,97.47 L901.79,97.34 L901.99,97.21 L902.16,97.08 L902.28,96.94 L902.37,96.81 L902.42,96.67 L902.42,96.54 L902.38,96.41 L902.31,96.29 L902.19,96.17" stroke-width="1.7"/>
<path d="M896.62,105.3 L897.35,105.47 L898.08,105.63 L898.8,105.77 L899.52,105.9 L900.23,106.01 L900.92,106.11 L901.6,106.19 L902.27,106.25 L902.92,106.3 L903.54,106.34 L904.15,106.36 L904.73,106.36 L905.29,106.36 L905.82,106.34 L906.32,106.31 L906.79,106.27 L907.23,106.22 L907.63,106.16 L908,106.1 L908.34,106.02 L908.63,105.94 L908.89,105.85 L909.11,105.75 L909.29,105.66 L909.43,105.56 L909.53,105.45 L909.58,105.35 L909.6,105.25" stroke-width="1.7"/>
<path d="M885.41,109.14 L886.03,109.63 L886.69,110.12 L887.36,110.6 L888.06,111.06 L888.79,111.51 L889.53,111.95 L890.29,112.37 L891.06,112.78 L891.85,113.17 L892.65,113.55 L893.46,113.91 L894.28,114.25 L895.11,114.57 L895.93,114.88 L896.76,115.17 L897.59,115.44 L898.41,115.69 L899.23,115.92 L900.04,116.13 L900.84,116.33 L901.63,116.5 L902.4,116.66 L903.16,116.8 L903.9,116.92 L904.62,117.02 L905.32,117.11 L905.99,117.18 L906.64,117.24 L907.26,117.28 L907.85,117.3 L908.4,117.31 L908.93,117.31 L909.42,117.29 L909.88,117.27 L910.3,117.23 L910.68,117.18 L911.03,117.12 L911.33,117.06 L911.6,116.99 L911.82,116.91" stroke-width="1.7"/>
<path d="M872.76,107.29 L872.91,107.98 L873.1,108.67 L873.34,109.36 L873.61,110.06 L873.93,110.75 L874.28,111.45 L874.67,112.15 L875.11,112.85 L875.58,113.54 L876.08,114.22 L876.62,114.91 L877.2,115.58 L877.81,116.24 L878.45,116.9 L879.12,117.54 L879.82,118.18 L880.54,118.8 L881.29,119.4 L882.07,119.99 L882.87,120.57 L883.69,121.13 L884.52,121.67 L885.37,122.19 L886.24,122.69 L887.12,123.18 L888.01,123.64 L888.9,124.09 L889.8,124.51 L890.71,124.91 L891.61,125.29 L892.52,125.65 L893.42,125.99 L894.32,126.3 L895.2,126.6 L896.08,126.87 L896.95,127.12 L897.8,127.35 L898.64,127.55 L899.46,127.74 L900.25,127.91" stroke-width="1.7"/>
<path d="M866.08,100.85 L865.67,101.47 L865.29,102.11 L864.94,102.78 L864.63,103.47 L864.36,104.17 L864.11,104.9 L863.91,105.64 L863.75,106.4 L863.62,107.18 L863.53,107.96 L863.49,108.76 L863.48,109.57 L863.52,110.39 L863.6,111.22 L863.72,112.05 L863.88,112.89 L864.08,113.73 L864.33,114.57 L864.61,115.41 L864.94,116.26 L865.31,117.1 L865.72,117.94 L866.17,118.77 L866.65,119.59 L867.18,120.41 L867.73,121.22 L868.33,122.02 L868.96,122.81 L869.62,123.58 L870.31,124.34 L871.03,125.09 L871.78,125.82 L872.55,126.53 L873.35,127.23 L874.17,127.91 L875.02,128.56 L875.88,129.2 L876.76,129.81 L877.65,130.41 L878.55,130.98" stroke-width="1.7"/>
<path d="M869.28,93.57 L868.55,93.92 L867.82,94.3 L867.1,94.72 L866.38,95.16 L865.68,95.63 L864.98,96.13 L864.3,96.67 L863.64,97.23 L862.99,97.82 L862.36,98.43 L861.75,99.08 L861.17,99.75 L860.62,100.44 L860.09,101.16 L859.58,101.9 L859.11,102.67 L858.68,103.45 L858.27,104.26 L857.9,105.08 L857.57,105.92 L857.27,106.78 L857.01,107.65 L856.79,108.54 L856.61,109.44 L856.47,110.35 L856.38,111.27 L856.32,112.19 L856.31,113.13 L856.34,114.07 L856.41,115.01 L856.52,115.96 L856.68,116.9 L856.88,117.85 L857.12,118.79 L857.41,119.73 L857.73,120.67 L858.1,121.59 L858.5,122.52 L858.95,123.43 L859.43,124.33" stroke-width="1.7"/>
<path d="M880.49,89.73 L879.87,89.76 L879.22,89.81 L878.54,89.89" stroke-width="1.7"/>
<path d="M893.15,91.57 L892.99,91.42 L892.8,91.27 L892.57,91.13 L892.29,91 L891.98,90.89" stroke-width="1.7"/>
<path d="M884.4,96.42 L884.33,96.46 L884.24,96.5 L884.16,96.54 L884.07,96.57 L883.98,96.61 L883.88,96.64 L883.79,96.66 L883.69,96.69 L883.59,96.71 L883.48,96.72 L883.38,96.74 L883.27,96.75 L883.17,96.76 L883.06,96.76 L882.95,96.76 L882.84,96.76 L882.74,96.76 L882.63,96.75 L882.53,96.74 L882.42,96.72 L882.32,96.71 L882.22,96.69 L882.12,96.66 L882.02,96.64 L881.93,96.61 L881.83,96.57 L881.75,96.54 L881.66,96.5 L881.58,96.46 L881.5,96.42 L881.43,96.37 L881.36,96.33 L881.29,96.28 L881.23,96.23 L881.17,96.17 L881.12,96.12 L881.08,96.06 L881.04,96.01 L881,95.95 L880.97,95.89 L880.94,95.83 L880.92,95.77 L880.91,95.71 L880.9,95.65 L880.9,95.58 L880.9,95.52 L880.91,95.46 L880.92,95.4 L880.94,95.34 L880.97,95.28 L881,95.22 L881.04,95.16 L881.08,95.1 L881.12,95.05 L881.17,94.99 L881.23,94.94 L881.29,94.89 L881.36,94.84 L881.43,94.79 L881.5,94.75 L881.58,94.71 L881.66,94.67 L881.75,94.63 L881.83,94.59 L881.93,94.56 L882.02,94.53 L882.12,94.51 L882.22,94.48 L882.32,94.46 L882.42,94.44 L882.53,94.43 L882.63,94.42 L882.74,94.41 L882.84,94.41 L882.95,94.4 L883.06,94.41 L883.17,94.41 L883.27,94.42 L883.38,94.43 L883.48,94.44 L883.59,94.46 L883.69,94.48 L883.79,94.51 L883.88,94.53 L883.98,94.56 L884.07,94.59 L884.16,94.63 L884.24,94.67 L884.33,94.71 L884.4,94.75 L884.48,94.79 L884.55,94.84 L884.61,94.89 L884.67,94.94 L884.73,94.99 L884.78,95.05 L884.83,95.1 L884.87,95.16 L884.9,95.22 L884.93,95.28 L884.96,95.34 L884.98,95.4 L884.99,95.46 L885,95.52 L885,95.58 L885,95.65 L884.99,95.71 L884.98,95.77 L884.96,95.83 L884.93,95.89 L884.9,95.95 L884.87,96.01 L884.83,96.06 L884.78,96.12 L884.73,96.17 L884.67,96.23 L884.61,96.28 L884.55,96.33 L884.48,96.37 L884.4,96.42" stroke="#e8e8e8" stroke-width="3.2"/>
<path d="M886.87,98.16 L886.66,98.28 L886.44,98.39 L886.21,98.49 L885.97,98.58 L885.72,98.67 L885.47,98.75 L885.21,98.82 L884.94,98.89 L884.66,98.94 L884.39,98.99 L884.1,99.03 L883.82,99.06 L883.53,99.08 L883.24,99.09 L882.95,99.1 L882.66,99.09 L882.37,99.08 L882.08,99.06 L881.8,99.03 L881.52,98.99 L881.24,98.94 L880.97,98.89 L880.7,98.82 L880.44,98.75 L880.18,98.67 L879.93,98.58 L879.69,98.49 L879.46,98.39 L879.24,98.28 L879.03,98.16 L878.83,98.04 L878.64,97.92 L878.47,97.78 L878.3,97.65 L878.15,97.5 L878.01,97.36 L877.89,97.21 L877.78,97.05 L877.68,96.89 L877.6,96.73 L877.53,96.57 L877.48,96.41 L877.44,96.24 L877.42,96.08 L877.41,95.91 L877.42,95.74 L877.44,95.58 L877.48,95.41 L877.53,95.25 L877.6,95.09 L877.68,94.93 L877.78,94.77 L877.89,94.61 L878.01,94.46 L878.15,94.32 L878.3,94.17 L878.47,94.04 L878.64,93.9 L878.83,93.78 L879.03,93.66 L879.24,93.54 L879.46,93.43 L879.69,93.33 L879.93,93.24 L880.18,93.15 L880.44,93.07 L880.7,93 L880.97,92.93 L881.24,92.88 L881.52,92.83 L881.8,92.79 L882.08,92.76 L882.37,92.74 L882.66,92.73 L882.95,92.72 L883.24,92.73 L883.53,92.74 L883.82,92.76 L884.1,92.79 L884.39,92.83 L884.66,92.88 L884.94,92.93 L885.21,93 L885.47,93.07 L885.72,93.15 L885.97,93.24 L886.21,93.33 L886.44,93.43 L886.66,93.54 L886.87,93.66 L887.07,93.78 L887.26,93.9 L887.44,94.04 L887.6,94.17 L887.75,94.32 L887.89,94.46 L888.02,94.61 L888.13,94.77 L888.22,94.93 L888.31,95.09 L888.37,95.25 L888.43,95.41 L888.46,95.58 L888.49,95.74 L888.49,95.91 L888.49,96.08 L888.46,96.24 L888.43,96.41 L888.37,96.57 L888.31,96.73 L888.22,96.89 L888.13,97.05 L888.02,97.21 L887.89,97.36 L887.75,97.5 L887.6,97.65 L887.44,97.78 L887.26,97.92 L887.07,98.04 L886.87,98.16" stroke="#e8e8e8" stroke-width="3.2" stroke-dasharray="1.8 0.6"/>
<path d="M889.28,100.17 L888.94,100.36 L888.59,100.53 L888.21,100.7 L887.83,100.85 L887.43,100.99 L887.02,101.12 L886.59,101.23 L886.16,101.34 L885.72,101.43 L885.27,101.5 L884.81,101.57 L884.35,101.62 L883.89,101.65 L883.42,101.67 L882.95,101.68 L882.48,101.67 L882.02,101.65 L881.55,101.62 L881.09,101.57 L880.63,101.5 L880.19,101.43 L879.74,101.34 L879.31,101.23 L878.89,101.12 L878.48,100.99 L878.08,100.85 L877.69,100.7 L877.32,100.53 L876.96,100.36 L876.62,100.17 L876.3,99.98 L875.99,99.77 L875.71,99.56 L875.44,99.34 L875.2,99.11 L874.97,98.87 L874.77,98.63 L874.59,98.38 L874.44,98.12 L874.3,97.86 L874.19,97.6 L874.11,97.34 L874.05,97.07 L874.01,96.8 L874,96.53 L874.01,96.26 L874.05,95.99 L874.11,95.73 L874.19,95.46 L874.3,95.2 L874.44,94.94 L874.59,94.69 L874.77,94.44 L874.97,94.19 L875.2,93.96 L875.44,93.73 L875.71,93.51 L875.99,93.29 L876.3,93.09 L876.62,92.89 L876.96,92.71 L877.32,92.53 L877.69,92.37 L878.08,92.21 L878.48,92.07 L878.89,91.94 L879.31,91.83 L879.74,91.73 L880.19,91.64 L880.63,91.56 L881.09,91.5 L881.55,91.45 L882.02,91.41 L882.48,91.39 L882.95,91.38 L883.42,91.39 L883.89,91.41 L884.35,91.45 L884.81,91.5 L885.27,91.56 L885.72,91.64 L886.16,91.73 L886.59,91.83 L887.02,91.94 L887.43,92.07 L887.83,92.21 L888.21,92.37 L888.59,92.53 L888.94,92.71 L889.28,92.89 L889.61,93.09 L889.91,93.29 L890.2,93.51 L890.46,93.73 L890.71,93.96 L890.93,94.19 L891.13,94.44 L891.31,94.69 L891.47,94.94 L891.6,95.2 L891.71,95.46 L891.79,95.73 L891.86,95.99 L891.89,96.26 L891.91,96.53 L891.89,96.8 L891.86,97.07 L891.79,97.34 L891.71,97.6 L891.6,97.86 L891.47,98.12 L891.31,98.38 L891.13,98.63 L890.93,98.87 L890.71,99.11 L890.46,99.34 L890.2,99.56 L889.91,99.77 L889.61,99.98 L889.28,100.17" stroke="#e8e8e8" stroke-width="3.2" stroke-dasharray="1.6 0.6"/>
<path d="M891.6,102.42 L891.14,102.67 L890.65,102.91 L890.14,103.13 L889.62,103.34 L889.07,103.53 L888.51,103.71 L887.93,103.87 L887.34,104.01 L886.73,104.13 L886.12,104.24 L885.5,104.32 L884.87,104.39 L884.23,104.44 L883.59,104.47 L882.95,104.48 L882.31,104.47 L881.67,104.44 L881.04,104.39 L880.41,104.32 L879.79,104.24 L879.17,104.13 L878.57,104.01 L877.98,103.87 L877.4,103.71 L876.83,103.53 L876.29,103.34 L875.76,103.13 L875.25,102.91 L874.77,102.67 L874.3,102.42 L873.86,102.15 L873.44,101.87 L873.05,101.58 L872.69,101.27 L872.36,100.96 L872.05,100.63 L871.77,100.3 L871.53,99.96 L871.32,99.61 L871.13,99.26 L870.98,98.9 L870.87,98.54 L870.78,98.18 L870.73,97.81 L870.72,97.44 L870.73,97.07 L870.78,96.71 L870.87,96.34 L870.98,95.98 L871.13,95.62 L871.32,95.27 L871.53,94.92 L871.77,94.58 L872.05,94.25 L872.36,93.92 L872.69,93.61 L873.05,93.31 L873.44,93.01 L873.86,92.73 L874.3,92.47 L874.77,92.21 L875.25,91.97 L875.76,91.75 L876.29,91.54 L876.83,91.35 L877.4,91.17 L877.98,91.01 L878.57,90.87 L879.17,90.75 L879.79,90.65 L880.41,90.56 L881.04,90.49 L881.67,90.44 L882.31,90.42 L882.95,90.41 L883.59,90.42 L884.23,90.44 L884.87,90.49 L885.5,90.56 L886.12,90.65 L886.73,90.75 L887.34,90.87 L887.93,91.01 L888.51,91.17 L889.07,91.35 L889.62,91.54 L890.14,91.75 L890.65,91.97 L891.14,92.21 L891.6,92.47 L892.04,92.73 L892.46,93.01 L892.85,93.31 L893.21,93.61 L893.55,93.92 L893.85,94.25 L894.13,94.58 L894.37,94.92 L894.59,95.27 L894.77,95.62 L894.92,95.98 L895.04,96.34 L895.12,96.71 L895.17,97.07 L895.19,97.44 L895.17,97.81 L895.12,98.18 L895.04,98.54 L894.92,98.9 L894.77,99.26 L894.59,99.61 L894.37,99.96 L894.13,100.3 L893.85,100.63 L893.55,100.96 L893.21,101.27 L892.85,101.58 L892.46,101.87 L892.04,102.15 L891.6,102.42" stroke="#e8e8e8" stroke-width="3" stroke-dasharray="1.7 0.6"/>
<path d="M893.8,104.86 L893.22,105.18 L892.61,105.48 L891.97,105.76 L891.31,106.02 L890.62,106.26 L889.92,106.48 L889.19,106.68 L888.45,106.86 L887.69,107.01 L886.92,107.14 L886.14,107.25 L885.35,107.34 L884.56,107.4 L883.75,107.43 L882.95,107.44 L882.15,107.43 L881.35,107.4 L880.55,107.34 L879.76,107.25 L878.98,107.14 L878.21,107.01 L877.45,106.86 L876.71,106.68 L875.99,106.48 L875.28,106.26 L874.6,106.02 L873.93,105.76 L873.3,105.48 L872.69,105.18 L872.1,104.86 L871.55,104.53 L871.03,104.17 L870.54,103.81 L870.09,103.43 L869.67,103.03 L869.28,102.63 L868.94,102.21 L868.63,101.78 L868.36,101.35 L868.13,100.91 L867.95,100.46 L867.8,100 L867.7,99.55 L867.63,99.09 L867.61,98.62 L867.63,98.16 L867.7,97.7 L867.8,97.24 L867.95,96.79 L868.13,96.34 L868.36,95.9 L868.63,95.46 L868.94,95.04 L869.28,94.62 L869.67,94.21 L870.09,93.82 L870.54,93.44 L871.03,93.07 L871.55,92.72 L872.1,92.39 L872.69,92.07 L873.3,91.77 L873.93,91.49 L874.6,91.23 L875.28,90.98 L875.99,90.76 L876.71,90.57 L877.45,90.39 L878.21,90.23 L878.98,90.1 L879.76,90 L880.55,89.91 L881.35,89.85 L882.15,89.81 L882.95,89.8 L883.75,89.81 L884.56,89.85 L885.35,89.91 L886.14,90 L886.92,90.1 L887.69,90.23 L888.45,90.39 L889.19,90.57 L889.92,90.76 L890.62,90.98 L891.31,91.23 L891.97,91.49 L892.61,91.77 L893.22,92.07 L893.8,92.39 L894.35,92.72 L894.87,93.07 L895.36,93.44 L895.82,93.82 L896.24,94.21 L896.62,94.62 L896.97,95.04 L897.27,95.46 L897.54,95.9 L897.77,96.34 L897.96,96.79 L898.1,97.24 L898.21,97.7 L898.27,98.16 L898.29,98.62 L898.27,99.09 L898.21,99.55 L898.1,100 L897.96,100.46 L897.77,100.91 L897.54,101.35 L897.27,101.78 L896.97,102.21 L896.62,102.63 L896.24,103.03 L895.82,103.43 L895.36,103.81 L894.87,104.17 L894.35,104.53 L893.8,104.86" stroke="#e8e8e8" stroke-width="2.8" stroke-dasharray="1.5 0.7"/>
<path d="M895.18,106.59 L894.52,106.94 L893.83,107.28 L893.12,107.6 L892.37,107.89 L891.6,108.17 L890.8,108.41 L889.98,108.64 L889.15,108.84 L888.3,109.01 L887.43,109.16 L886.55,109.28 L885.66,109.38 L884.76,109.44 L883.86,109.48 L882.95,109.5 L882.05,109.48 L881.14,109.44 L880.25,109.38 L879.36,109.28 L878.48,109.16 L877.61,109.01 L876.76,108.84 L875.92,108.64 L875.1,108.41 L874.31,108.17 L873.53,107.89 L872.79,107.6 L872.07,107.28 L871.38,106.94 L870.73,106.59 L870.1,106.21 L869.51,105.81 L868.96,105.4 L868.45,104.97 L867.98,104.53 L867.55,104.07 L867.16,103.6 L866.81,103.12 L866.51,102.63 L866.25,102.13 L866.04,101.62 L865.87,101.11 L865.76,100.6 L865.68,100.08 L865.66,99.56 L865.68,99.04 L865.76,98.52 L865.87,98 L866.04,97.49 L866.25,96.98 L866.51,96.48 L866.81,95.99 L867.16,95.51 L867.55,95.04 L867.98,94.58 L868.45,94.14 L868.96,93.71 L869.51,93.3 L870.1,92.9 L870.73,92.53 L871.38,92.17 L872.07,91.83 L872.79,91.51 L873.53,91.22 L874.31,90.95 L875.1,90.7 L875.92,90.47 L876.76,90.27 L877.61,90.1 L878.48,89.95 L879.36,89.83 L880.25,89.74 L881.14,89.67 L882.05,89.63 L882.95,89.61 L883.86,89.63 L884.76,89.67 L885.66,89.74 L886.55,89.83 L887.43,89.95 L888.3,90.1 L889.15,90.27 L889.98,90.47 L890.8,90.7 L891.6,90.95 L892.37,91.22 L893.12,91.51 L893.83,91.83 L894.52,92.17 L895.18,92.53 L895.8,92.9 L896.39,93.3 L896.94,93.71 L897.45,94.14 L897.93,94.58 L898.36,95.04 L898.75,95.51 L899.09,95.99 L899.4,96.48 L899.65,96.98 L899.87,97.49 L900.03,98 L900.15,98.52 L900.22,99.04 L900.24,99.56 L900.22,100.08 L900.15,100.6 L900.03,101.11 L899.87,101.62 L899.65,102.13 L899.4,102.63 L899.09,103.12 L898.75,103.6 L898.36,104.07 L897.93,104.53 L897.45,104.97 L896.94,105.4 L896.39,105.81 L895.8,106.21 L895.18,106.59" stroke="#e8e8e8" stroke-width="1.3"/>
<path d="M903.65,126.91 L902.54,127.52 L901.38,128.09 L900.16,128.62 L898.9,129.12 L897.59,129.58 L896.24,130 L894.86,130.38 L893.44,130.72 L892,131.02 L890.53,131.27 L889.04,131.47 L887.53,131.63 L886.01,131.75 L884.48,131.82 L882.95,131.84 L881.42,131.82 L879.89,131.75 L878.37,131.63 L876.87,131.47 L875.37,131.27 L873.91,131.02 L872.46,130.72 L871.04,130.38 L869.66,130 L868.31,129.58 L867.01,129.12 L865.74,128.62 L864.53,128.09 L863.36,127.52 L862.25,126.91 L861.2,126.27 L860.2,125.6 L859.27,124.9 L858.4,124.17 L857.6,123.42 L856.87,122.65 L856.21,121.85 L855.62,121.04 L855.11,120.21 L854.67,119.36 L854.32,118.51 L854.04,117.64 L853.84,116.77 L853.72,115.89 L853.68,115.01 L853.72,114.13" stroke="#e8e8e8" stroke-width="3.2" stroke-dasharray="1.6 0.7"/>
<path d="M912.19,114.13 L912.23,115.01 L912.19,115.89 L912.07,116.77 L911.87,117.64 L911.59,118.51 L911.23,119.36 L910.79,120.21 L910.28,121.04 L909.7,121.85 L909.04,122.65 L908.31,123.42 L907.5,124.17 L906.64,124.9 L905.7,125.6 L904.71,126.27 L903.65,126.91" stroke="#e8e8e8" stroke-width="3.2" stroke-dasharray="1.6 0.7"/>
<path d="M869.68,93.27 A13.28,5.4 0 0 0 896.23,93.27" stroke-width="1.2"/>
</g>
<path d="M844.54,118.02 A38.41,22.08 0 0 0 921.36,118.02" stroke-width="1.5"/>
</g>
<g id="txt" stroke="none">
<text transform="translate(112.8,224.4) rotate(-90)" font-size="13" textLength="47.4" lengthAdjust="spacingAndGlyphs" fill="#f2f2f2" stroke="#f2f2f2" stroke-width="0.3">412mm</text>
<text transform="translate(131.8,218.2) rotate(-90)" font-size="13" textLength="37" lengthAdjust="spacingAndGlyphs" fill="#f2f2f2" stroke="#f2f2f2" stroke-width="0.3">16.2in</text>
<text transform="translate(73.9,646.3) rotate(-90)" font-size="13" textLength="46.5" lengthAdjust="spacingAndGlyphs" fill="#f2f2f2" stroke="#f2f2f2" stroke-width="0.3">222mm</text>
<text transform="translate(93.6,637.8) rotate(-90)" font-size="13" textLength="29.9" lengthAdjust="spacingAndGlyphs" fill="#f2f2f2" stroke="#f2f2f2" stroke-width="0.3">8.7in</text>
<text transform="translate(112.1,701.7) rotate(-90)" font-size="13" textLength="39.5" lengthAdjust="spacingAndGlyphs" fill="#f2f2f2" stroke="#f2f2f2" stroke-width="0.3">73mm</text>
<text transform="translate(131.7,697.8) rotate(-90)" font-size="13" textLength="32" lengthAdjust="spacingAndGlyphs" fill="#f2f2f2" stroke="#f2f2f2" stroke-width="0.3">2.9in</text>
<text x="339.9" y="771.9" font-size="13" textLength="48" lengthAdjust="spacingAndGlyphs" fill="#f2f2f2" stroke="#f2f2f2" stroke-width="0.3">525mm</text>
<text x="344.5" y="790.8" font-size="13" textLength="39.7" lengthAdjust="spacingAndGlyphs" fill="#f2f2f2" stroke="#f2f2f2" stroke-width="0.3">20.7in</text>
</g>
<g id="br">
<path d="M99.5,224.7 V227.5 H114.9 V224.7" stroke="#b8b8b8" stroke-width="1.2"/>
<path d="M99.5,175.6 V172.8 H114.9 V175.6" stroke="#b8b8b8" stroke-width="1.2"/>
<path d="M119,219.3 Q126.35,225 133.7,219.3" stroke="#b8b8b8" stroke-width="1.2"/>
<path d="M119,181.5 Q126.35,175.8 133.7,181.5" stroke="#b8b8b8" stroke-width="1.2"/>
<path d="M61.2,646.7 V649.5 H76.6 V646.7" stroke="#b8b8b8" stroke-width="1.2"/>
<path d="M61.2,598.6 V595.8 H76.6 V598.6" stroke="#b8b8b8" stroke-width="1.2"/>
<path d="M80.9,637.6 Q88.25,643.3 95.6,637.6" stroke="#b8b8b8" stroke-width="1.2"/>
<path d="M80.9,608.8 Q88.25,603.1 95.6,608.8" stroke="#b8b8b8" stroke-width="1.2"/>
<path d="M99.3,701.8 V704.6 H114.6 V701.8" stroke="#b8b8b8" stroke-width="1.2"/>
<path d="M99.3,661.4 V658.6 H114.6 V661.4" stroke="#b8b8b8" stroke-width="1.2"/>
<path d="M118.9,696.2 Q126.4,701.9 133.9,696.2" stroke="#b8b8b8" stroke-width="1.2"/>
<path d="M118.9,667.3 Q126.4,661.6 133.9,667.3" stroke="#b8b8b8" stroke-width="1.2"/>
<path d="M339.1,759.4 H336.3 V774.7 H339.1" stroke="#b8b8b8" stroke-width="1.2"/>
<path d="M388.5,759.4 H391.3 V774.7 H388.5" stroke="#b8b8b8" stroke-width="1.2"/>
<path d="M344.9,778.8 Q339.2,786.2 344.9,793.6" stroke="#b8b8b8" stroke-width="1.2"/>
<path d="M383.2,778.8 Q388.9,786.2 383.2,793.6" stroke="#b8b8b8" stroke-width="1.2"/>
</g>
</g>
</svg>
</body></html>
